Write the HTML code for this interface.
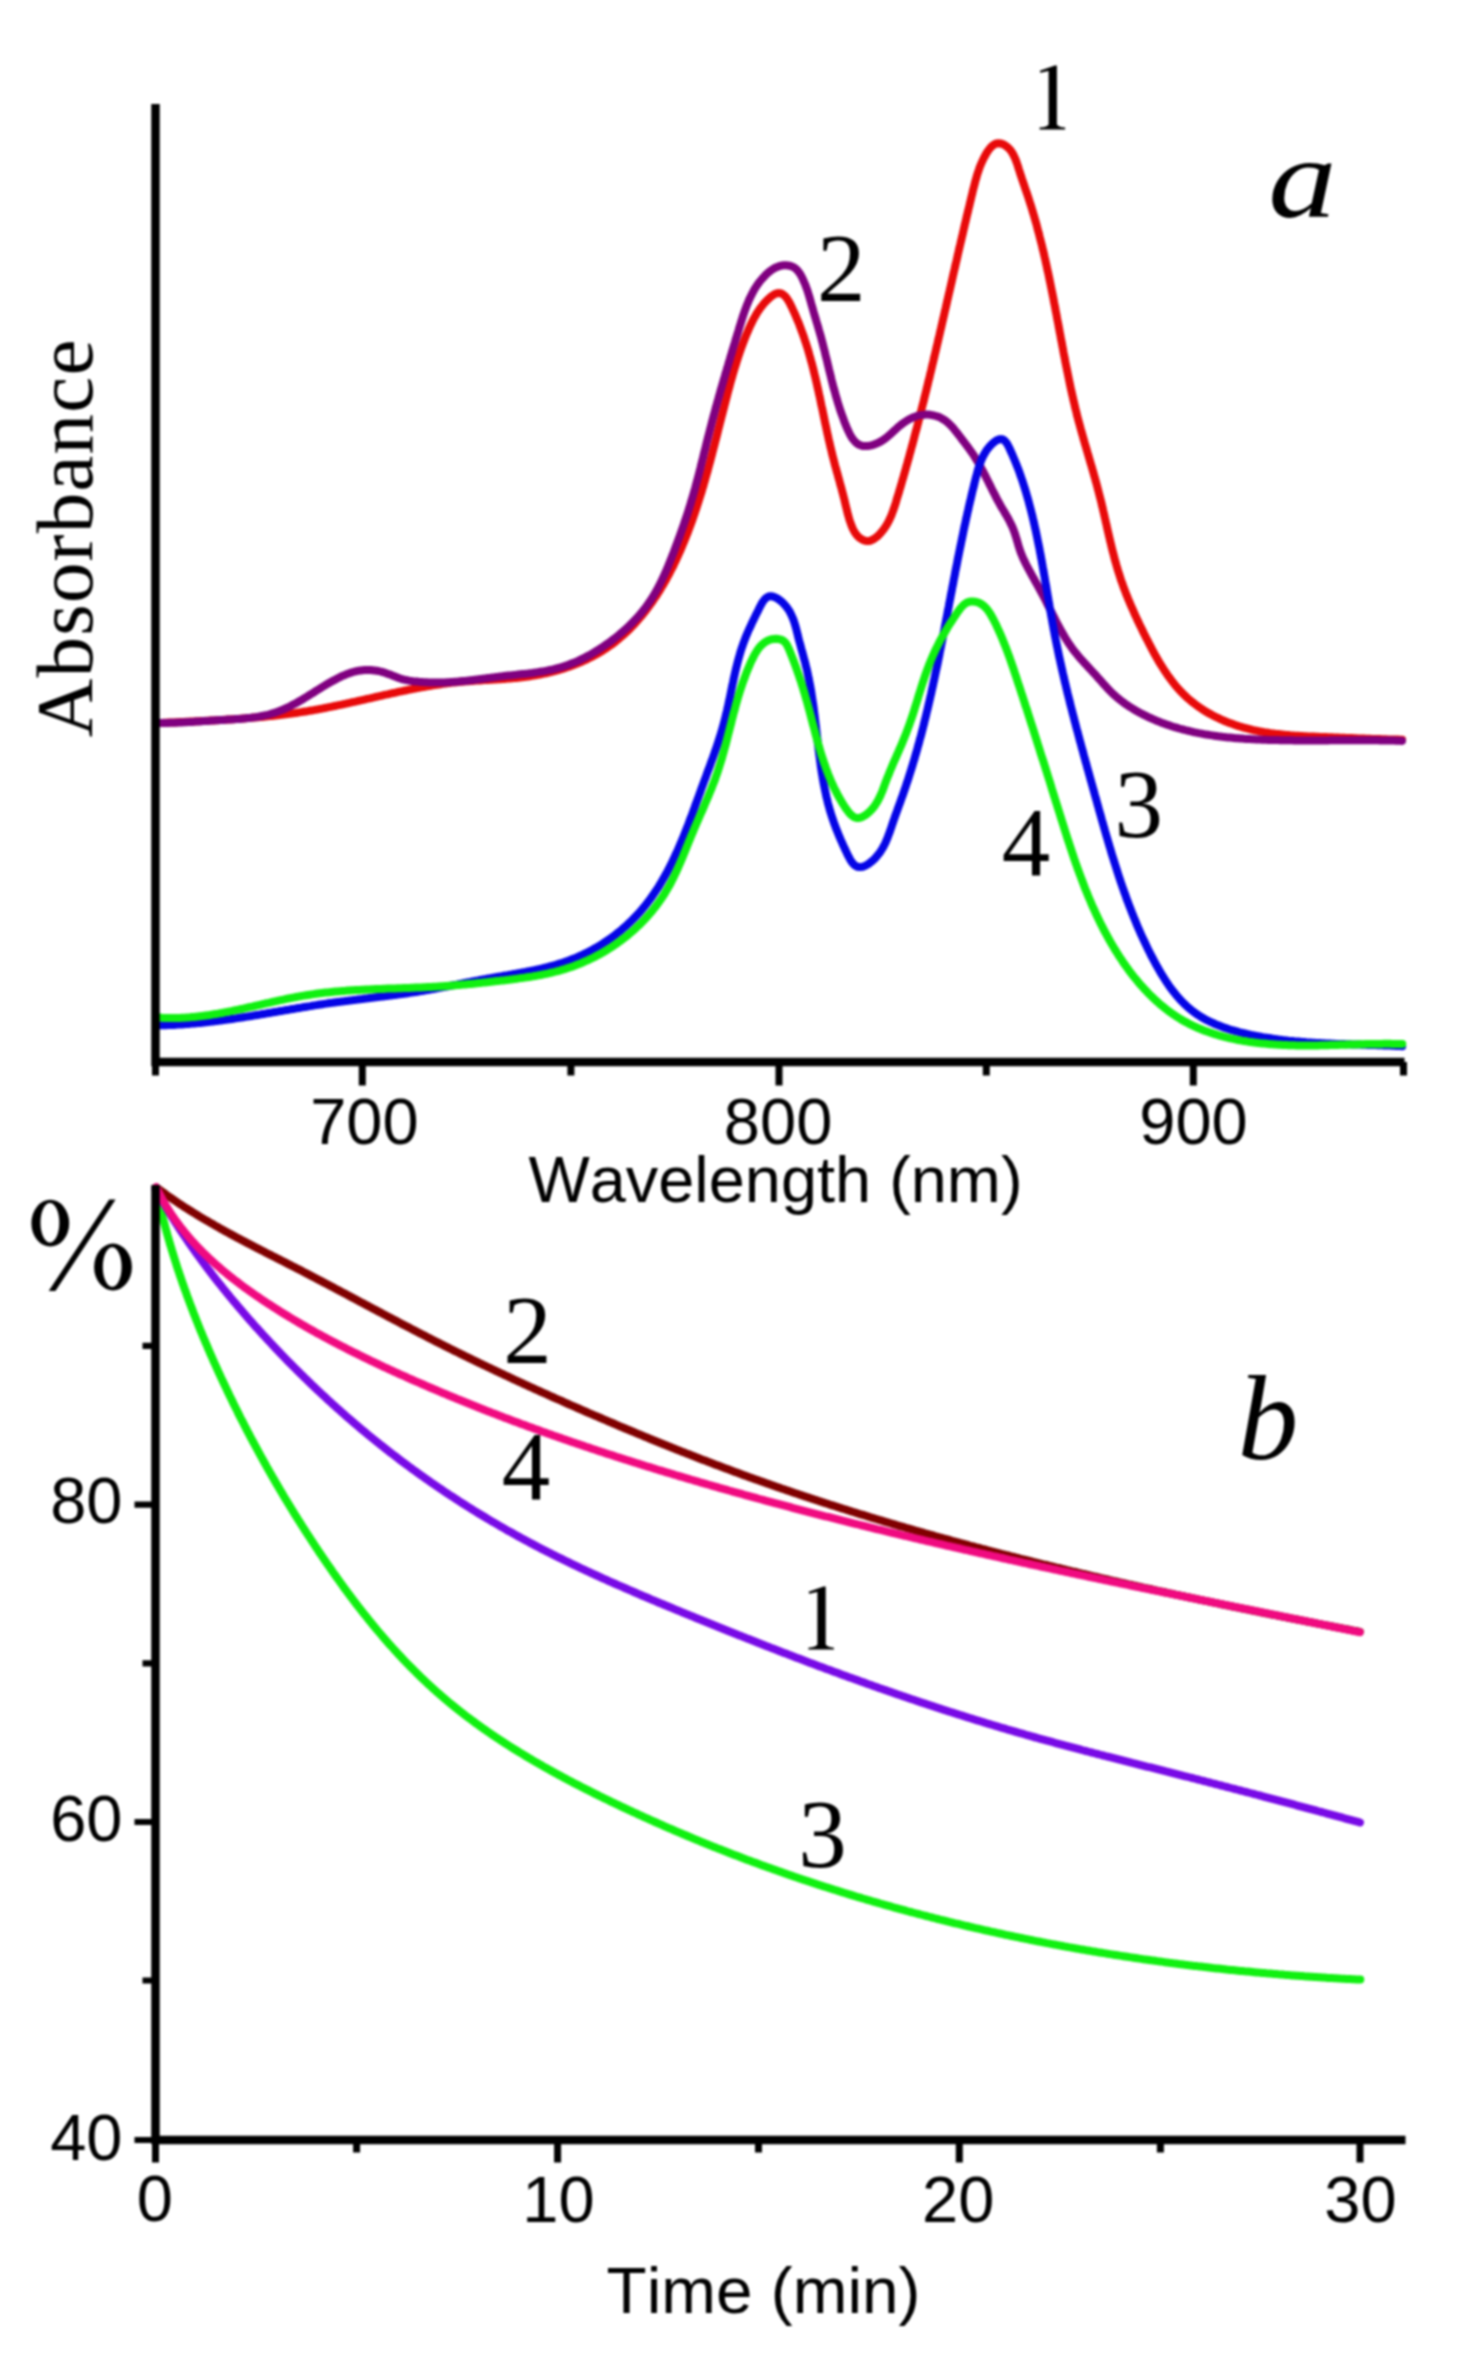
<!DOCTYPE html>
<html><head><meta charset="utf-8"><style>
html,body{margin:0;padding:0;background:#fff;width:1464px;height:2356px;overflow:hidden;}
svg{display:block;filter:blur(1px);}

</style></head><body>
<svg width="1464" height="2356" viewBox="0 0 1464 2356">
<rect width="1464" height="2356" fill="#fff"/>
<path d="M155.9,723.2 L157.9,723.1 L160.0,723.0 L162.0,722.9 L164.0,722.8 L166.0,722.7 L168.0,722.6 L170.0,722.5 L172.0,722.4 L174.0,722.4 L176.0,722.3 L178.0,722.2 L180.0,722.1 L182.0,722.0 L184.0,721.9 L186.0,721.8 L188.0,721.7 L190.0,721.6 L192.0,721.5 L194.0,721.4 L196.0,721.3 L198.0,721.2 L200.0,721.1 L202.0,721.0 L204.0,720.9 L206.0,720.8 L208.0,720.7 L210.0,720.6 L212.0,720.5 L214.0,720.4 L216.0,720.3 L217.9,720.2 L219.9,720.0 L221.9,719.9 L223.9,719.8 L225.9,719.7 L227.9,719.5 L229.9,719.4 L231.9,719.3 L233.9,719.2 L235.9,719.0 L237.9,718.9 L239.9,718.7 L241.9,718.6 L243.9,718.4 L245.8,718.3 L247.8,718.1 L249.8,718.0 L251.8,717.8 L253.8,717.6 L255.8,717.5 L257.8,717.3 L259.8,717.1 L261.7,716.9 L263.7,716.7 L265.7,716.5 L267.7,716.3 L269.7,716.1 L271.7,715.9 L273.7,715.7 L275.6,715.5 L277.6,715.3 L279.6,715.0 L281.6,714.8 L283.6,714.5 L285.5,714.3 L287.5,714.0 L289.5,713.8 L291.5,713.5 L293.4,713.2 L295.4,713.0 L297.4,712.7 L299.4,712.4 L301.3,712.1 L303.3,711.8 L305.3,711.5 L307.3,711.2 L309.2,710.8 L311.2,710.5 L313.2,710.2 L315.1,709.8 L317.1,709.5 L319.1,709.1 L321.0,708.8 L323.0,708.4 L325.0,708.0 L326.9,707.6 L328.9,707.2 L330.9,706.8 L332.8,706.4 L334.8,706.0 L336.7,705.6 L338.7,705.2 L340.7,704.8 L342.6,704.4 L344.6,704.0 L346.5,703.5 L348.5,703.1 L350.5,702.7 L352.4,702.2 L354.4,701.8 L356.3,701.4 L358.3,700.9 L360.3,700.5 L362.2,700.0 L364.2,699.6 L366.1,699.1 L368.1,698.7 L370.0,698.3 L372.0,697.8 L374.0,697.4 L375.9,696.9 L377.9,696.5 L379.8,696.0 L381.8,695.6 L383.7,695.1 L385.7,694.7 L387.7,694.3 L389.6,693.8 L391.6,693.4 L393.5,693.0 L395.5,692.6 L397.4,692.1 L399.4,691.7 L401.4,691.3 L403.3,690.9 L405.3,690.5 L407.2,690.1 L409.2,689.7 L411.2,689.3 L413.1,688.9 L415.1,688.5 L417.0,688.1 L419.0,687.8 L421.0,687.4 L422.9,687.0 L424.9,686.7 L426.9,686.4 L428.8,686.0 L430.8,685.7 L432.8,685.4 L434.7,685.1 L436.7,684.8 L438.7,684.5 L440.6,684.2 L442.6,683.9 L444.6,683.6 L446.5,683.4 L448.5,683.1 L450.5,682.9 L452.5,682.6 L454.4,682.4 L456.4,682.2 L458.4,682.0 L460.4,681.8 L462.4,681.7 L464.3,681.5 L466.3,681.3 L468.3,681.2 L470.3,681.0 L472.3,680.9 L474.2,680.8 L476.2,680.6 L478.2,680.5 L480.2,680.4 L482.2,680.3 L484.2,680.1 L486.2,680.0 L488.1,679.9 L490.1,679.8 L492.1,679.7 L494.1,679.6 L496.1,679.4 L498.1,679.3 L500.1,679.2 L502.1,679.0 L504.0,678.9 L506.0,678.7 L508.0,678.6 L510.0,678.4 L512.0,678.3 L514.0,678.1 L516.0,677.9 L518.0,677.7 L519.9,677.5 L521.9,677.2 L523.9,677.0 L525.9,676.7 L527.9,676.5 L529.9,676.2 L531.8,675.9 L533.8,675.6 L535.8,675.2 L537.8,674.9 L539.8,674.5 L541.7,674.1 L543.7,673.7 L545.7,673.3 L547.7,672.8 L549.6,672.4 L551.6,671.9 L553.5,671.4 L555.5,670.9 L557.4,670.3 L559.4,669.8 L561.3,669.2 L563.3,668.6 L565.2,668.0 L567.1,667.3 L569.0,666.7 L570.9,666.0 L572.8,665.3 L574.7,664.5 L576.6,663.8 L578.4,663.0 L580.3,662.3 L582.1,661.5 L584.0,660.6 L585.8,659.8 L587.6,658.9 L589.4,658.0 L591.2,657.1 L593.0,656.2 L594.7,655.3 L596.5,654.3 L598.2,653.3 L599.9,652.3 L601.6,651.3 L603.3,650.2 L604.9,649.2 L606.6,648.1 L608.2,646.9 L609.8,645.8 L611.4,644.7 L613.0,643.5 L614.6,642.3 L616.1,641.1 L617.6,639.8 L619.1,638.6 L620.6,637.3 L622.1,636.0 L623.6,634.7 L625.0,633.4 L626.5,632.1 L627.9,630.7 L629.3,629.3 L630.7,627.9 L632.1,626.5 L633.4,625.1 L634.8,623.7 L636.1,622.2 L637.4,620.7 L638.7,619.2 L640.0,617.7 L641.3,616.2 L642.5,614.7 L643.8,613.2 L645.0,611.6 L646.2,610.0 L647.4,608.4 L648.6,606.8 L649.8,605.2 L650.9,603.6 L652.1,602.0 L653.2,600.4 L654.3,598.7 L655.5,597.0 L656.6,595.4 L657.6,593.7 L658.7,592.0 L659.8,590.3 L660.8,588.6 L661.8,586.8 L662.9,585.1 L663.9,583.4 L664.9,581.6 L665.9,579.9 L666.8,578.1 L667.8,576.3 L668.8,574.5 L669.7,572.8 L670.6,571.0 L671.5,569.2 L672.5,567.4 L673.4,565.6 L674.2,563.7 L675.1,561.9 L676.0,560.1 L676.8,558.3 L677.7,556.4 L678.5,554.6 L679.3,552.7 L680.2,550.9 L681.0,549.0 L681.8,547.2 L682.5,545.3 L683.3,543.5 L684.1,541.6 L684.8,539.8 L685.6,537.9 L686.3,536.0 L687.1,534.2 L687.8,532.3 L688.5,530.4 L689.2,528.6 L689.9,526.7 L690.6,524.8 L691.3,522.9 L692.0,521.0 L692.6,519.2 L693.3,517.3 L693.9,515.4 L694.6,513.5 L695.2,511.6 L695.9,509.7 L696.5,507.8 L697.1,506.0 L697.7,504.1 L698.3,502.2 L698.9,500.3 L699.5,498.4 L700.1,496.5 L700.7,494.6 L701.3,492.7 L701.9,490.8 L702.4,488.9 L703.0,487.0 L703.6,485.0 L704.1,483.1 L704.7,481.2 L705.2,479.3 L705.7,477.4 L706.3,475.5 L706.8,473.6 L707.4,471.7 L707.9,469.7 L708.4,467.8 L708.9,465.9 L709.4,464.0 L710.0,462.1 L710.5,460.1 L711.0,458.2 L711.5,456.3 L712.0,454.4 L712.5,452.4 L713.0,450.5 L713.5,448.6 L714.0,446.6 L714.5,444.7 L715.0,442.8 L715.5,440.8 L716.0,438.9 L716.5,437.0 L717.0,435.0 L717.5,433.1 L717.9,431.2 L718.4,429.2 L718.9,427.3 L719.4,425.4 L719.9,423.4 L720.4,421.5 L720.9,419.5 L721.4,417.6 L721.9,415.6 L722.4,413.7 L722.9,411.8 L723.4,409.8 L723.9,407.9 L724.4,405.9 L724.9,404.0 L725.4,402.0 L725.9,400.1 L726.4,398.2 L726.9,396.2 L727.4,394.3 L727.9,392.3 L728.4,390.4 L729.0,388.4 L729.5,386.5 L730.0,384.5 L730.5,382.6 L731.1,380.6 L731.6,378.7 L732.2,376.8 L732.7,374.8 L733.3,372.9 L733.8,371.0 L734.4,369.0 L735.0,367.1 L735.6,365.2 L736.2,363.3 L736.8,361.4 L737.4,359.5 L738.0,357.6 L738.6,355.7 L739.3,353.8 L739.9,351.9 L740.6,350.0 L741.2,348.2 L741.9,346.3 L742.6,344.4 L743.3,342.6 L744.0,340.8 L744.7,338.9 L745.4,337.1 L746.1,335.3 L746.9,333.5 L747.7,331.7 L748.4,329.9 L749.2,328.1 L750.0,326.4 L750.8,324.6 L751.7,322.9 L752.5,321.1 L753.4,319.4 L754.3,317.7 L755.3,316.0 L756.3,314.2 L757.3,312.5 L758.5,310.8 L759.7,309.0 L761.0,307.2 L762.4,305.5 L763.9,303.6 L765.6,301.8 L767.3,300.0 L769.0,298.4 L770.8,296.8 L772.6,295.5 L774.3,294.4 L776.0,293.6 L777.6,293.2 L779.1,293.1 L780.5,293.3 L781.8,293.8 L783.1,294.5 L784.3,295.5 L785.5,296.7 L786.6,298.0 L787.6,299.5 L788.6,301.1 L789.6,302.8 L790.5,304.6 L791.4,306.5 L792.3,308.3 L793.1,310.2 L794.0,312.0 L794.8,313.9 L795.6,315.7 L796.4,317.6 L797.2,319.5 L798.0,321.4 L798.8,323.2 L799.5,325.1 L800.2,327.0 L800.9,328.9 L801.6,330.8 L802.3,332.7 L803.0,334.6 L803.7,336.5 L804.3,338.4 L804.9,340.3 L805.6,342.2 L806.2,344.1 L806.8,346.0 L807.4,347.9 L808.0,349.8 L808.5,351.7 L809.1,353.7 L809.6,355.6 L810.2,357.5 L810.7,359.4 L811.2,361.4 L811.8,363.3 L812.3,365.2 L812.8,367.2 L813.3,369.1 L813.7,371.0 L814.2,373.0 L814.7,374.9 L815.2,376.9 L815.6,378.8 L816.1,380.7 L816.5,382.7 L817.0,384.6 L817.4,386.6 L817.8,388.5 L818.3,390.5 L818.7,392.4 L819.1,394.4 L819.6,396.3 L820.0,398.3 L820.4,400.2 L820.8,402.2 L821.2,404.2 L821.6,406.1 L822.1,408.1 L822.5,410.0 L822.9,412.0 L823.3,413.9 L823.7,415.9 L824.1,417.9 L824.5,419.8 L824.9,421.8 L825.3,423.7 L825.8,425.7 L826.2,427.6 L826.6,429.6 L827.0,431.5 L827.4,433.5 L827.9,435.5 L828.3,437.4 L828.7,439.4 L829.2,441.3 L829.6,443.3 L830.1,445.2 L830.5,447.2 L831.0,449.1 L831.5,451.1 L831.9,453.0 L832.4,455.0 L832.9,456.9 L833.4,458.8 L833.9,460.8 L834.4,462.7 L834.9,464.7 L835.4,466.6 L836.0,468.5 L836.5,470.5 L837.0,472.4 L837.6,474.3 L838.1,476.3 L838.6,478.2 L839.2,480.1 L839.7,482.1 L840.2,484.0 L840.7,485.9 L841.3,487.8 L841.8,489.7 L842.3,491.7 L842.8,493.6 L843.3,495.5 L843.8,497.4 L844.3,499.3 L844.7,501.2 L845.2,503.2 L845.6,505.1 L846.1,507.0 L846.6,508.9 L847.0,510.8 L847.5,512.7 L848.0,514.7 L848.6,516.6 L849.1,518.6 L849.7,520.5 L850.4,522.5 L851.1,524.5 L851.9,526.5 L852.7,528.5 L853.7,530.4 L854.7,532.2 L855.9,533.9 L857.1,535.5 L858.5,536.9 L860.0,538.2 L861.6,539.2 L863.2,540.1 L864.9,540.6 L866.7,541.0 L868.4,541.0 L870.1,540.7 L871.9,540.0 L873.6,539.1 L875.2,538.0 L876.9,536.8 L878.4,535.3 L879.9,533.9 L881.2,532.4 L882.5,530.8 L883.8,529.2 L884.9,527.6 L886.0,525.9 L887.0,524.2 L888.0,522.5 L888.9,520.7 L889.8,518.9 L890.6,517.1 L891.4,515.3 L892.1,513.4 L892.8,511.6 L893.5,509.7 L894.1,507.8 L894.8,505.9 L895.4,504.0 L896.0,502.1 L896.5,500.2 L897.1,498.2 L897.7,496.3 L898.3,494.4 L898.9,492.5 L899.4,490.5 L900.0,488.6 L900.6,486.7 L901.1,484.8 L901.7,482.8 L902.2,480.9 L902.8,479.0 L903.4,477.1 L903.9,475.1 L904.5,473.2 L905.0,471.3 L905.6,469.4 L906.1,467.4 L906.6,465.5 L907.2,463.6 L907.7,461.7 L908.3,459.7 L908.8,457.8 L909.3,455.9 L909.8,453.9 L910.4,452.0 L910.9,450.1 L911.4,448.1 L911.9,446.2 L912.5,444.3 L913.0,442.3 L913.5,440.4 L914.0,438.5 L914.5,436.5 L915.0,434.6 L915.5,432.7 L916.1,430.7 L916.6,428.8 L917.1,426.9 L917.6,424.9 L918.1,423.0 L918.6,421.1 L919.1,419.1 L919.6,417.2 L920.1,415.3 L920.5,413.3 L921.0,411.4 L921.5,409.4 L922.0,407.5 L922.5,405.6 L923.0,403.6 L923.5,401.7 L924.0,399.8 L924.4,397.8 L924.9,395.9 L925.4,393.9 L925.9,392.0 L926.4,390.1 L926.8,388.1 L927.3,386.2 L927.8,384.2 L928.2,382.3 L928.7,380.3 L929.2,378.4 L929.7,376.5 L930.1,374.5 L930.6,372.6 L931.1,370.6 L931.5,368.7 L932.0,366.8 L932.4,364.8 L932.9,362.9 L933.4,360.9 L933.8,359.0 L934.3,357.0 L934.7,355.1 L935.2,353.1 L935.7,351.2 L936.1,349.3 L936.6,347.3 L937.0,345.4 L937.5,343.4 L937.9,341.5 L938.4,339.5 L938.8,337.6 L939.3,335.6 L939.7,333.7 L940.2,331.8 L940.6,329.8 L941.1,327.9 L941.5,325.9 L942.0,324.0 L942.4,322.0 L942.9,320.1 L943.3,318.1 L943.8,316.2 L944.2,314.2 L944.7,312.3 L945.1,310.3 L945.6,308.4 L946.0,306.5 L946.5,304.5 L946.9,302.6 L947.3,300.6 L947.8,298.7 L948.2,296.7 L948.7,294.8 L949.1,292.8 L949.6,290.9 L950.0,288.9 L950.5,287.0 L950.9,285.0 L951.4,283.1 L951.8,281.1 L952.2,279.2 L952.7,277.2 L953.1,275.3 L953.6,273.3 L954.0,271.4 L954.5,269.4 L954.9,267.5 L955.4,265.5 L955.8,263.6 L956.3,261.6 L956.7,259.7 L957.2,257.8 L957.6,255.8 L958.0,253.9 L958.5,251.9 L958.9,250.0 L959.4,248.0 L959.8,246.1 L960.3,244.1 L960.7,242.2 L961.2,240.2 L961.7,238.3 L962.1,236.3 L962.6,234.4 L963.0,232.4 L963.5,230.5 L963.9,228.5 L964.4,226.6 L964.8,224.6 L965.3,222.7 L965.8,220.7 L966.2,218.8 L966.7,216.8 L967.1,214.9 L967.6,213.0 L968.1,211.0 L968.5,209.1 L969.0,207.1 L969.5,205.2 L969.9,203.2 L970.4,201.3 L970.9,199.3 L971.3,197.4 L971.8,195.4 L972.3,193.5 L972.7,191.5 L973.2,189.6 L973.7,187.6 L974.2,185.7 L974.7,183.8 L975.2,181.8 L975.7,179.9 L976.3,178.0 L976.8,176.0 L977.4,174.1 L978.0,172.2 L978.7,170.3 L979.3,168.4 L980.0,166.5 L980.8,164.7 L981.6,162.8 L982.4,161.0 L983.3,159.1 L984.2,157.3 L985.2,155.5 L986.2,153.7 L987.3,151.9 L988.5,150.2 L989.7,148.6 L991.0,147.1 L992.3,145.8 L993.8,144.8 L995.3,143.9 L996.9,143.4 L998.5,143.2 L1000.3,143.4 L1002.0,143.9 L1003.8,144.6 L1005.4,145.6 L1007.0,146.7 L1008.4,148.0 L1009.7,149.3 L1010.9,150.8 L1012.0,152.4 L1013.0,154.1 L1013.9,155.9 L1014.8,157.7 L1015.6,159.6 L1016.3,161.5 L1017.0,163.5 L1017.7,165.5 L1018.3,167.5 L1018.9,169.5 L1019.6,171.5 L1020.2,173.5 L1020.8,175.4 L1021.5,177.4 L1022.1,179.3 L1022.8,181.2 L1023.4,183.1 L1024.1,185.0 L1024.7,186.9 L1025.3,188.8 L1026.0,190.6 L1026.6,192.5 L1027.3,194.4 L1027.9,196.3 L1028.5,198.1 L1029.1,200.0 L1029.7,201.9 L1030.3,203.8 L1030.9,205.6 L1031.5,207.5 L1032.1,209.4 L1032.6,211.3 L1033.2,213.2 L1033.8,215.1 L1034.3,217.0 L1034.9,218.9 L1035.4,220.8 L1036.0,222.7 L1036.5,224.6 L1037.0,226.5 L1037.5,228.5 L1038.0,230.4 L1038.5,232.3 L1039.1,234.2 L1039.5,236.1 L1040.0,238.1 L1040.5,240.0 L1041.0,241.9 L1041.5,243.9 L1042.0,245.8 L1042.4,247.7 L1042.9,249.7 L1043.4,251.6 L1043.8,253.5 L1044.3,255.5 L1044.7,257.4 L1045.2,259.4 L1045.6,261.3 L1046.0,263.3 L1046.5,265.2 L1046.9,267.2 L1047.3,269.1 L1047.7,271.1 L1048.2,273.0 L1048.6,275.0 L1049.0,276.9 L1049.4,278.9 L1049.8,280.9 L1050.2,282.8 L1050.6,284.8 L1051.0,286.8 L1051.4,288.7 L1051.8,290.7 L1052.2,292.6 L1052.6,294.6 L1053.0,296.6 L1053.4,298.5 L1053.7,300.5 L1054.1,302.5 L1054.5,304.5 L1054.9,306.4 L1055.3,308.4 L1055.6,310.4 L1056.0,312.3 L1056.4,314.3 L1056.8,316.3 L1057.1,318.3 L1057.5,320.2 L1057.9,322.2 L1058.3,324.2 L1058.6,326.1 L1059.0,328.1 L1059.4,330.1 L1059.7,332.1 L1060.1,334.0 L1060.5,336.0 L1060.8,338.0 L1061.2,339.9 L1061.6,341.9 L1062.0,343.9 L1062.3,345.8 L1062.7,347.8 L1063.1,349.8 L1063.4,351.7 L1063.8,353.7 L1064.2,355.7 L1064.6,357.6 L1065.0,359.6 L1065.3,361.6 L1065.7,363.5 L1066.1,365.5 L1066.5,367.5 L1066.9,369.4 L1067.3,371.4 L1067.7,373.3 L1068.1,375.3 L1068.5,377.3 L1068.9,379.2 L1069.3,381.2 L1069.7,383.1 L1070.1,385.1 L1070.5,387.0 L1070.9,389.0 L1071.4,390.9 L1071.8,392.9 L1072.2,394.8 L1072.7,396.8 L1073.1,398.7 L1073.6,400.7 L1074.0,402.6 L1074.5,404.5 L1074.9,406.5 L1075.4,408.4 L1075.9,410.4 L1076.4,412.3 L1076.8,414.2 L1077.3,416.2 L1077.8,418.1 L1078.3,420.0 L1078.8,421.9 L1079.4,423.9 L1079.9,425.8 L1080.4,427.7 L1080.9,429.6 L1081.5,431.5 L1082.0,433.5 L1082.6,435.4 L1083.1,437.3 L1083.6,439.2 L1084.2,441.1 L1084.7,443.1 L1085.3,445.0 L1085.9,446.9 L1086.4,448.8 L1087.0,450.7 L1087.5,452.6 L1088.1,454.5 L1088.7,456.5 L1089.2,458.4 L1089.8,460.3 L1090.3,462.2 L1090.9,464.1 L1091.5,466.1 L1092.0,468.0 L1092.6,469.9 L1093.1,471.8 L1093.7,473.7 L1094.2,475.7 L1094.8,477.6 L1095.3,479.5 L1095.8,481.4 L1096.4,483.4 L1096.9,485.3 L1097.4,487.2 L1097.9,489.2 L1098.4,491.1 L1098.9,493.1 L1099.4,495.0 L1099.9,496.9 L1100.4,498.9 L1100.9,500.8 L1101.4,502.8 L1101.8,504.7 L1102.3,506.7 L1102.8,508.6 L1103.2,510.6 L1103.7,512.6 L1104.1,514.5 L1104.6,516.5 L1105.0,518.4 L1105.5,520.4 L1105.9,522.4 L1106.4,524.3 L1106.8,526.3 L1107.2,528.2 L1107.7,530.2 L1108.1,532.2 L1108.6,534.1 L1109.0,536.1 L1109.5,538.0 L1109.9,540.0 L1110.4,541.9 L1110.9,543.9 L1111.3,545.8 L1111.8,547.8 L1112.3,549.7 L1112.8,551.7 L1113.3,553.6 L1113.8,555.5 L1114.3,557.5 L1114.8,559.4 L1115.3,561.3 L1115.9,563.2 L1116.4,565.1 L1117.0,567.1 L1117.5,569.0 L1118.1,570.9 L1118.7,572.8 L1119.3,574.6 L1119.9,576.5 L1120.5,578.4 L1121.1,580.3 L1121.8,582.2 L1122.5,584.0 L1123.1,585.9 L1123.8,587.7 L1124.5,589.6 L1125.2,591.4 L1125.9,593.3 L1126.6,595.1 L1127.4,597.0 L1128.1,598.8 L1128.9,600.6 L1129.6,602.4 L1130.4,604.3 L1131.2,606.1 L1132.0,607.9 L1132.8,609.7 L1133.6,611.5 L1134.4,613.4 L1135.2,615.2 L1136.1,617.0 L1136.9,618.8 L1137.7,620.6 L1138.6,622.4 L1139.4,624.2 L1140.3,626.0 L1141.2,627.8 L1142.1,629.6 L1142.9,631.4 L1143.8,633.2 L1144.7,635.0 L1145.6,636.8 L1146.5,638.6 L1147.5,640.4 L1148.4,642.2 L1149.3,644.0 L1150.2,645.8 L1151.2,647.6 L1152.1,649.4 L1153.1,651.2 L1154.0,653.0 L1155.0,654.8 L1156.0,656.5 L1157.0,658.3 L1158.0,660.0 L1159.0,661.8 L1160.1,663.5 L1161.1,665.2 L1162.2,666.9 L1163.3,668.6 L1164.4,670.3 L1165.5,672.0 L1166.6,673.6 L1167.7,675.3 L1168.9,676.9 L1170.1,678.5 L1171.2,680.1 L1172.5,681.7 L1173.7,683.3 L1174.9,684.8 L1176.2,686.3 L1177.5,687.8 L1178.8,689.3 L1180.1,690.7 L1181.5,692.2 L1182.9,693.6 L1184.3,695.0 L1185.7,696.3 L1187.1,697.7 L1188.6,699.0 L1190.1,700.2 L1191.6,701.5 L1193.2,702.7 L1194.7,703.9 L1196.3,705.1 L1197.9,706.3 L1199.5,707.4 L1201.2,708.5 L1202.8,709.6 L1204.5,710.7 L1206.2,711.7 L1207.9,712.7 L1209.6,713.7 L1211.4,714.6 L1213.1,715.6 L1214.9,716.5 L1216.7,717.4 L1218.5,718.2 L1220.3,719.1 L1222.1,719.9 L1224.0,720.7 L1225.8,721.5 L1227.7,722.2 L1229.5,722.9 L1231.4,723.6 L1233.3,724.3 L1235.2,725.0 L1237.1,725.6 L1239.0,726.2 L1240.9,726.8 L1242.9,727.4 L1244.8,727.9 L1246.7,728.4 L1248.7,728.9 L1250.6,729.4 L1252.5,729.9 L1254.5,730.3 L1256.4,730.7 L1258.4,731.1 L1260.4,731.5 L1262.3,731.8 L1264.3,732.2 L1266.3,732.5 L1268.2,732.8 L1270.2,733.1 L1272.2,733.4 L1274.2,733.6 L1276.2,733.9 L1278.1,734.1 L1280.1,734.3 L1282.1,734.5 L1284.1,734.7 L1286.1,734.9 L1288.1,735.1 L1290.1,735.3 L1292.1,735.4 L1294.1,735.6 L1296.1,735.7 L1298.1,735.8 L1300.1,736.0 L1302.1,736.1 L1304.1,736.2 L1306.1,736.3 L1308.1,736.4 L1310.1,736.5 L1312.1,736.6 L1314.1,736.6 L1316.1,736.7 L1318.1,736.8 L1320.1,736.9 L1322.1,737.0 L1324.1,737.0 L1326.1,737.1 L1328.1,737.2 L1330.1,737.3 L1332.1,737.3 L1334.1,737.4 L1336.1,737.5 L1338.1,737.6 L1340.1,737.7 L1342.1,737.7 L1344.1,737.8 L1346.1,737.9 L1348.1,738.0 L1350.1,738.1 L1352.1,738.1 L1354.1,738.2 L1356.0,738.3 L1358.0,738.4 L1360.0,738.4 L1362.0,738.5 L1364.0,738.6 L1366.0,738.7 L1368.0,738.7 L1370.0,738.8 L1372.0,738.9 L1374.0,738.9 L1376.0,739.0 L1378.0,739.1 L1380.0,739.1 L1382.0,739.2 L1384.0,739.3 L1386.0,739.3 L1388.0,739.4 L1390.0,739.4 L1392.0,739.5 L1394.0,739.5 L1396.0,739.6 L1398.0,739.6 L1400.0,739.7 L1402.1,739.7" stroke="#e80a0a" stroke-width="8" fill="none" stroke-linejoin="round" stroke-linecap="round"/>
<path d="M155.9,722.9 L158.0,722.9 L160.0,722.9 L162.0,722.9 L164.0,722.9 L166.1,722.9 L168.1,722.9 L170.1,722.8 L172.1,722.8 L174.1,722.7 L176.1,722.7 L178.1,722.6 L180.1,722.5 L182.0,722.4 L184.0,722.3 L186.0,722.2 L188.0,722.1 L190.0,722.0 L192.0,721.9 L193.9,721.8 L195.9,721.6 L197.9,721.5 L199.9,721.4 L201.9,721.2 L203.9,721.1 L205.8,721.0 L207.8,720.9 L209.8,720.7 L211.8,720.6 L213.8,720.5 L215.8,720.3 L217.8,720.2 L219.8,720.1 L221.8,720.0 L223.8,719.9 L225.8,719.8 L227.8,719.6 L229.9,719.5 L231.9,719.4 L233.9,719.3 L235.9,719.1 L237.9,719.0 L239.9,718.9 L241.9,718.7 L244.0,718.5 L246.0,718.3 L248.0,718.1 L250.0,717.9 L251.9,717.6 L253.9,717.4 L255.9,717.1 L257.9,716.8 L259.8,716.4 L261.8,716.0 L263.7,715.6 L265.6,715.2 L267.6,714.8 L269.5,714.3 L271.4,713.7 L273.3,713.2 L275.1,712.6 L277.0,711.9 L278.8,711.2 L280.7,710.5 L282.5,709.8 L284.3,709.0 L286.1,708.2 L287.9,707.3 L289.6,706.5 L291.4,705.6 L293.2,704.6 L294.9,703.7 L296.7,702.7 L298.4,701.7 L300.1,700.7 L301.9,699.7 L303.6,698.7 L305.3,697.6 L307.0,696.6 L308.7,695.5 L310.5,694.4 L312.2,693.4 L313.9,692.3 L315.6,691.2 L317.3,690.1 L319.0,689.1 L320.8,688.0 L322.5,686.9 L324.2,685.9 L325.9,684.8 L327.7,683.8 L329.4,682.8 L331.2,681.8 L332.9,680.8 L334.7,679.9 L336.5,678.9 L338.3,678.0 L340.1,677.1 L341.9,676.2 L343.7,675.4 L345.5,674.7 L347.3,673.9 L349.2,673.2 L351.1,672.6 L353.0,672.0 L354.9,671.5 L356.8,671.1 L358.7,670.7 L360.7,670.4 L362.6,670.2 L364.6,670.1 L366.6,670.0 L368.6,670.0 L370.6,670.0 L372.6,670.2 L374.5,670.4 L376.5,670.7 L378.5,671.0 L380.4,671.5 L382.4,672.0 L384.3,672.5 L386.2,673.2 L388.1,673.9 L390.0,674.6 L391.9,675.3 L393.7,676.1 L395.6,676.8 L397.5,677.5 L399.4,678.2 L401.2,678.8 L403.2,679.4 L405.1,679.8 L407.0,680.2 L409.0,680.6 L410.9,680.9 L412.9,681.2 L414.9,681.4 L416.8,681.6 L418.8,681.8 L420.8,681.9 L422.8,682.1 L424.8,682.2 L426.8,682.3 L428.8,682.4 L430.8,682.5 L432.9,682.5 L434.9,682.5 L436.9,682.6 L438.9,682.5 L440.9,682.5 L442.9,682.5 L444.9,682.4 L446.9,682.3 L448.9,682.2 L450.9,682.1 L452.9,682.0 L454.9,681.8 L456.9,681.7 L458.8,681.5 L460.8,681.3 L462.8,681.1 L464.8,680.9 L466.8,680.7 L468.8,680.5 L470.7,680.3 L472.7,680.1 L474.7,679.8 L476.7,679.6 L478.7,679.3 L480.6,679.1 L482.6,678.8 L484.6,678.6 L486.6,678.3 L488.5,678.0 L490.5,677.8 L492.5,677.5 L494.5,677.3 L496.5,677.0 L498.4,676.8 L500.4,676.5 L502.4,676.3 L504.4,676.0 L506.4,675.8 L508.4,675.6 L510.4,675.4 L512.4,675.2 L514.4,675.0 L516.4,674.8 L518.4,674.5 L520.4,674.3 L522.4,674.1 L524.4,673.9 L526.3,673.7 L528.3,673.5 L530.3,673.2 L532.3,673.0 L534.3,672.7 L536.3,672.4 L538.2,672.1 L540.2,671.8 L542.2,671.5 L544.1,671.2 L546.1,670.8 L548.0,670.4 L550.0,670.0 L551.9,669.6 L553.9,669.2 L555.8,668.7 L557.7,668.2 L559.6,667.7 L561.5,667.1 L563.4,666.5 L565.3,665.9 L567.1,665.2 L569.0,664.6 L570.9,663.8 L572.7,663.1 L574.5,662.4 L576.4,661.6 L578.2,660.8 L580.0,659.9 L581.8,659.0 L583.6,658.2 L585.4,657.3 L587.1,656.3 L588.9,655.4 L590.7,654.4 L592.4,653.4 L594.1,652.4 L595.8,651.3 L597.6,650.3 L599.3,649.2 L600.9,648.1 L602.6,647.0 L604.3,645.9 L605.9,644.7 L607.6,643.6 L609.2,642.4 L610.9,641.2 L612.5,640.0 L614.1,638.8 L615.7,637.5 L617.2,636.3 L618.8,635.0 L620.3,633.7 L621.9,632.4 L623.4,631.1 L624.9,629.8 L626.4,628.4 L627.8,627.1 L629.3,625.7 L630.7,624.3 L632.1,622.9 L633.5,621.4 L634.9,620.0 L636.3,618.5 L637.6,617.1 L639.0,615.6 L640.3,614.1 L641.5,612.5 L642.8,611.0 L644.0,609.4 L645.2,607.9 L646.4,606.3 L647.6,604.7 L648.7,603.1 L649.9,601.4 L651.0,599.8 L652.0,598.1 L653.1,596.4 L654.1,594.7 L655.1,593.0 L656.1,591.3 L657.1,589.5 L658.0,587.8 L658.9,586.0 L659.8,584.3 L660.7,582.5 L661.6,580.7 L662.5,578.9 L663.3,577.1 L664.2,575.3 L665.0,573.4 L665.8,571.6 L666.6,569.8 L667.4,567.9 L668.2,566.1 L668.9,564.2 L669.7,562.4 L670.4,560.5 L671.2,558.6 L671.9,556.8 L672.6,554.9 L673.4,553.0 L674.1,551.1 L674.8,549.3 L675.5,547.4 L676.2,545.5 L676.9,543.6 L677.6,541.8 L678.3,539.9 L679.0,538.0 L679.7,536.1 L680.4,534.2 L681.0,532.4 L681.7,530.5 L682.4,528.6 L683.0,526.7 L683.7,524.8 L684.3,522.9 L685.0,521.0 L685.6,519.2 L686.2,517.3 L686.9,515.4 L687.5,513.5 L688.1,511.6 L688.7,509.7 L689.3,507.8 L689.9,505.9 L690.5,504.0 L691.1,502.0 L691.6,500.1 L692.2,498.2 L692.8,496.3 L693.3,494.4 L693.9,492.5 L694.4,490.6 L695.0,488.6 L695.5,486.7 L696.0,484.8 L696.5,482.9 L697.1,480.9 L697.6,479.0 L698.1,477.1 L698.6,475.1 L699.1,473.2 L699.6,471.2 L700.1,469.3 L700.6,467.4 L701.0,465.4 L701.5,463.5 L702.0,461.6 L702.5,459.6 L703.0,457.7 L703.5,455.7 L703.9,453.8 L704.4,451.8 L704.9,449.9 L705.4,448.0 L705.9,446.0 L706.3,444.1 L706.8,442.1 L707.3,440.2 L707.8,438.3 L708.3,436.3 L708.8,434.4 L709.3,432.4 L709.8,430.5 L710.3,428.6 L710.8,426.6 L711.3,424.7 L711.8,422.8 L712.3,420.8 L712.8,418.9 L713.3,417.0 L713.9,415.0 L714.4,413.1 L714.9,411.2 L715.4,409.3 L715.9,407.3 L716.5,405.4 L717.0,403.5 L717.5,401.6 L718.1,399.6 L718.6,397.7 L719.2,395.8 L719.7,393.9 L720.2,391.9 L720.8,390.0 L721.3,388.1 L721.9,386.2 L722.4,384.3 L723.0,382.3 L723.6,380.4 L724.1,378.5 L724.7,376.6 L725.2,374.7 L725.8,372.8 L726.4,370.8 L726.9,368.9 L727.5,367.0 L728.1,365.1 L728.6,363.2 L729.2,361.3 L729.8,359.3 L730.3,357.4 L730.9,355.5 L731.5,353.6 L732.1,351.7 L732.6,349.8 L733.2,347.8 L733.8,345.9 L734.4,344.0 L735.0,342.1 L735.5,340.2 L736.1,338.3 L736.7,336.4 L737.3,334.4 L737.9,332.5 L738.5,330.6 L739.0,328.7 L739.6,326.8 L740.2,324.9 L740.8,323.0 L741.4,321.0 L742.0,319.1 L742.6,317.2 L743.2,315.3 L743.9,313.4 L744.5,311.6 L745.2,309.7 L745.9,307.8 L746.6,305.9 L747.3,304.1 L748.1,302.3 L748.8,300.4 L749.7,298.6 L750.5,296.8 L751.4,295.1 L752.3,293.3 L753.2,291.6 L754.2,289.8 L755.2,288.1 L756.3,286.4 L757.4,284.8 L758.6,283.1 L759.8,281.5 L761.1,280.0 L762.4,278.4 L763.8,276.9 L765.2,275.4 L766.7,273.9 L768.2,272.6 L769.8,271.3 L771.4,270.1 L773.1,269.0 L774.8,268.0 L776.6,267.2 L778.4,266.5 L780.2,265.9 L782.1,265.5 L784.0,265.3 L786.0,265.3 L787.9,265.5 L789.8,265.8 L791.6,266.4 L793.4,267.2 L795.0,268.2 L796.4,269.3 L797.7,270.7 L798.9,272.2 L800.0,273.8 L801.0,275.5 L801.9,277.2 L802.8,279.0 L803.6,280.8 L804.4,282.7 L805.2,284.5 L805.9,286.4 L806.6,288.3 L807.3,290.2 L807.9,292.1 L808.5,294.1 L809.1,296.0 L809.7,298.0 L810.2,299.9 L810.8,301.9 L811.3,303.8 L811.9,305.8 L812.4,307.7 L813.0,309.7 L813.5,311.6 L814.1,313.5 L814.6,315.4 L815.2,317.3 L815.8,319.2 L816.3,321.1 L816.9,323.0 L817.5,324.9 L818.0,326.8 L818.6,328.7 L819.1,330.6 L819.7,332.5 L820.2,334.4 L820.8,336.3 L821.3,338.2 L821.8,340.2 L822.3,342.1 L822.8,344.0 L823.3,346.0 L823.8,347.9 L824.3,349.9 L824.8,351.8 L825.2,353.8 L825.7,355.7 L826.2,357.7 L826.7,359.6 L827.2,361.6 L827.6,363.5 L828.1,365.5 L828.6,367.4 L829.0,369.4 L829.5,371.3 L830.0,373.3 L830.5,375.2 L831.0,377.2 L831.4,379.1 L831.9,381.1 L832.4,383.0 L832.9,385.0 L833.4,386.9 L833.9,388.8 L834.5,390.7 L835.0,392.6 L835.5,394.5 L836.0,396.4 L836.6,398.3 L837.2,400.2 L837.7,402.1 L838.3,404.0 L838.9,405.9 L839.5,407.8 L840.1,409.7 L840.7,411.5 L841.4,413.4 L842.1,415.3 L842.8,417.2 L843.5,419.1 L844.2,421.1 L844.9,423.0 L845.7,424.9 L846.5,426.9 L847.3,428.8 L848.2,430.7 L849.1,432.6 L850.0,434.5 L851.0,436.2 L852.0,437.9 L853.2,439.5 L854.4,440.9 L855.6,442.2 L857.0,443.4 L858.4,444.3 L860.0,445.1 L861.7,445.7 L863.4,446.0 L865.3,446.1 L867.2,446.1 L869.2,445.8 L871.2,445.4 L873.2,444.8 L875.2,444.1 L877.1,443.3 L879.0,442.4 L880.9,441.4 L882.6,440.3 L884.3,439.2 L885.9,438.0 L887.4,436.8 L888.9,435.5 L890.4,434.2 L891.8,432.9 L893.3,431.6 L894.7,430.2 L896.2,428.9 L897.6,427.6 L899.1,426.3 L900.7,425.0 L902.3,423.8 L903.9,422.6 L905.6,421.5 L907.3,420.4 L909.0,419.4 L910.8,418.5 L912.6,417.6 L914.4,416.9 L916.3,416.2 L918.2,415.7 L920.1,415.2 L922.1,414.9 L924.0,414.7 L926.0,414.6 L928.0,414.6 L930.0,414.8 L932.0,415.1 L934.0,415.5 L935.9,416.0 L937.8,416.6 L939.7,417.3 L941.4,418.2 L943.1,419.2 L944.8,420.2 L946.3,421.4 L947.8,422.6 L949.3,424.0 L950.7,425.4 L952.0,426.8 L953.4,428.3 L954.7,429.9 L955.9,431.4 L957.2,433.0 L958.4,434.6 L959.6,436.2 L960.9,437.9 L962.1,439.5 L963.3,441.1 L964.6,442.7 L965.8,444.3 L967.0,445.9 L968.2,447.5 L969.3,449.1 L970.5,450.7 L971.6,452.3 L972.8,454.0 L973.9,455.6 L974.9,457.3 L976.0,459.0 L977.0,460.7 L978.1,462.4 L979.0,464.1 L980.0,465.8 L981.0,467.6 L981.9,469.3 L982.9,471.1 L983.8,472.9 L984.7,474.6 L985.6,476.4 L986.5,478.2 L987.4,480.0 L988.3,481.8 L989.2,483.6 L990.1,485.4 L991.0,487.2 L991.8,489.0 L992.7,490.7 L993.6,492.5 L994.6,494.3 L995.5,496.1 L996.4,497.9 L997.3,499.7 L998.3,501.4 L999.3,503.2 L1000.2,504.9 L1001.2,506.7 L1002.2,508.4 L1003.3,510.1 L1004.3,511.9 L1005.3,513.6 L1006.3,515.3 L1007.3,517.0 L1008.3,518.8 L1009.2,520.5 L1010.1,522.3 L1011.0,524.1 L1011.9,525.9 L1012.7,527.7 L1013.4,529.5 L1014.1,531.4 L1014.8,533.3 L1015.4,535.2 L1016.0,537.1 L1016.6,539.0 L1017.1,540.9 L1017.7,542.8 L1018.2,544.7 L1018.8,546.6 L1019.4,548.5 L1020.0,550.4 L1020.7,552.3 L1021.4,554.2 L1022.2,556.0 L1022.9,557.8 L1023.8,559.6 L1024.6,561.4 L1025.5,563.2 L1026.4,565.0 L1027.3,566.7 L1028.2,568.5 L1029.2,570.2 L1030.1,572.0 L1031.1,573.7 L1032.0,575.5 L1033.0,577.2 L1034.0,578.9 L1034.9,580.7 L1035.9,582.4 L1036.9,584.2 L1037.9,585.9 L1038.8,587.7 L1039.8,589.4 L1040.7,591.2 L1041.7,592.9 L1042.6,594.7 L1043.5,596.4 L1044.5,598.2 L1045.4,600.0 L1046.3,601.8 L1047.2,603.6 L1048.1,605.4 L1049.0,607.2 L1049.9,609.0 L1050.8,610.8 L1051.7,612.6 L1052.6,614.4 L1053.5,616.1 L1054.4,617.9 L1055.3,619.7 L1056.2,621.5 L1057.1,623.3 L1058.0,625.1 L1059.0,626.8 L1059.9,628.6 L1060.9,630.3 L1061.9,632.1 L1062.9,633.8 L1063.9,635.5 L1064.9,637.3 L1065.9,639.0 L1067.0,640.6 L1068.1,642.3 L1069.2,644.0 L1070.3,645.6 L1071.4,647.2 L1072.6,648.9 L1073.8,650.5 L1075.0,652.0 L1076.3,653.6 L1077.5,655.1 L1078.8,656.7 L1080.1,658.2 L1081.5,659.7 L1082.8,661.2 L1084.1,662.7 L1085.5,664.1 L1086.9,665.6 L1088.2,667.1 L1089.6,668.6 L1091.0,670.0 L1092.3,671.5 L1093.7,673.0 L1095.1,674.4 L1096.4,675.9 L1097.7,677.4 L1099.1,678.9 L1100.4,680.4 L1101.7,681.8 L1103.0,683.3 L1104.3,684.8 L1105.7,686.3 L1107.0,687.7 L1108.4,689.2 L1109.7,690.6 L1111.1,692.0 L1112.5,693.4 L1114.0,694.7 L1115.4,696.0 L1116.9,697.3 L1118.5,698.6 L1120.0,699.9 L1121.6,701.1 L1123.2,702.3 L1124.8,703.5 L1126.4,704.6 L1128.1,705.7 L1129.8,706.9 L1131.5,707.9 L1133.2,709.0 L1134.9,710.0 L1136.6,711.0 L1138.4,712.0 L1140.2,713.0 L1142.0,713.9 L1143.8,714.8 L1145.6,715.7 L1147.4,716.6 L1149.2,717.5 L1151.1,718.3 L1152.9,719.1 L1154.7,719.9 L1156.6,720.7 L1158.5,721.4 L1160.3,722.2 L1162.2,722.9 L1164.1,723.6 L1165.9,724.2 L1167.8,724.9 L1169.7,725.5 L1171.6,726.2 L1173.5,726.8 L1175.4,727.3 L1177.3,727.9 L1179.2,728.5 L1181.1,729.0 L1183.1,729.5 L1185.0,730.0 L1186.9,730.5 L1188.8,730.9 L1190.8,731.4 L1192.7,731.8 L1194.7,732.3 L1196.6,732.7 L1198.6,733.1 L1200.5,733.4 L1202.5,733.8 L1204.4,734.2 L1206.4,734.5 L1208.3,734.8 L1210.3,735.1 L1212.3,735.4 L1214.2,735.7 L1216.2,736.0 L1218.2,736.3 L1220.2,736.5 L1222.2,736.8 L1224.1,737.0 L1226.1,737.2 L1228.1,737.4 L1230.1,737.6 L1232.1,737.8 L1234.1,738.0 L1236.1,738.2 L1238.1,738.3 L1240.0,738.5 L1242.0,738.6 L1244.0,738.8 L1246.0,738.9 L1248.0,739.0 L1250.0,739.1 L1252.0,739.2 L1254.0,739.3 L1256.0,739.4 L1258.0,739.5 L1260.0,739.6 L1262.0,739.7 L1264.1,739.8 L1266.1,739.8 L1268.1,739.9 L1270.1,740.0 L1272.1,740.0 L1274.1,740.1 L1276.1,740.1 L1278.1,740.1 L1280.1,740.2 L1282.1,740.2 L1284.1,740.2 L1286.1,740.3 L1288.1,740.3 L1290.1,740.3 L1292.1,740.3 L1294.1,740.4 L1296.1,740.4 L1298.1,740.4 L1300.1,740.4 L1302.1,740.4 L1304.1,740.4 L1306.1,740.4 L1308.1,740.4 L1310.1,740.4 L1312.1,740.4 L1314.1,740.4 L1316.1,740.4 L1318.1,740.4 L1320.1,740.4 L1322.1,740.4 L1324.0,740.4 L1326.0,740.4 L1328.0,740.4 L1330.0,740.3 L1332.0,740.3 L1334.0,740.3 L1336.0,740.3 L1338.0,740.3 L1340.0,740.3 L1342.0,740.3 L1344.0,740.3 L1346.0,740.3 L1348.0,740.3 L1350.0,740.3 L1352.0,740.3 L1354.0,740.3 L1356.0,740.2 L1358.0,740.2 L1360.0,740.2 L1362.0,740.3 L1364.0,740.3 L1366.0,740.3 L1368.0,740.3 L1370.0,740.3 L1372.0,740.3 L1374.0,740.3 L1376.0,740.3 L1378.0,740.3 L1380.0,740.4 L1382.0,740.4 L1384.0,740.4 L1386.0,740.5 L1388.0,740.5 L1390.0,740.5 L1392.0,740.6 L1394.0,740.6 L1396.0,740.7 L1398.0,740.7 L1400.0,740.8 L1402.0,740.9" stroke="#800080" stroke-width="8" fill="none" stroke-linejoin="round" stroke-linecap="round"/>
<path d="M155.9,1025.3 L157.9,1025.3 L159.9,1025.3 L161.9,1025.3 L163.9,1025.2 L165.9,1025.2 L168.0,1025.1 L170.0,1025.0 L172.0,1024.9 L174.0,1024.9 L176.0,1024.8 L178.0,1024.6 L180.0,1024.5 L182.0,1024.4 L184.0,1024.3 L186.0,1024.1 L188.0,1024.0 L190.0,1023.8 L192.0,1023.6 L194.0,1023.5 L196.0,1023.3 L198.0,1023.1 L199.9,1022.9 L201.9,1022.7 L203.9,1022.5 L205.9,1022.3 L207.9,1022.1 L209.9,1021.8 L211.9,1021.6 L213.8,1021.4 L215.8,1021.1 L217.8,1020.9 L219.8,1020.6 L221.8,1020.4 L223.7,1020.1 L225.7,1019.8 L227.7,1019.5 L229.7,1019.3 L231.7,1019.0 L233.6,1018.7 L235.6,1018.4 L237.6,1018.1 L239.6,1017.8 L241.5,1017.5 L243.5,1017.2 L245.5,1016.9 L247.5,1016.6 L249.4,1016.3 L251.4,1016.0 L253.4,1015.6 L255.3,1015.3 L257.3,1015.0 L259.3,1014.7 L261.3,1014.3 L263.2,1014.0 L265.2,1013.7 L267.2,1013.3 L269.1,1013.0 L271.1,1012.7 L273.1,1012.3 L275.0,1012.0 L277.0,1011.7 L279.0,1011.3 L281.0,1011.0 L282.9,1010.7 L284.9,1010.3 L286.9,1010.0 L288.8,1009.7 L290.8,1009.3 L292.8,1009.0 L294.8,1008.7 L296.7,1008.3 L298.7,1008.0 L300.7,1007.7 L302.6,1007.3 L304.6,1007.0 L306.6,1006.7 L308.6,1006.4 L310.5,1006.1 L312.5,1005.7 L314.5,1005.4 L316.5,1005.1 L318.4,1004.8 L320.4,1004.5 L322.4,1004.2 L324.4,1003.9 L326.4,1003.6 L328.3,1003.3 L330.3,1003.0 L332.3,1002.8 L334.3,1002.5 L336.3,1002.2 L338.2,1001.9 L340.2,1001.7 L342.2,1001.4 L344.2,1001.2 L346.2,1000.9 L348.2,1000.7 L350.2,1000.4 L352.1,1000.2 L354.1,999.9 L356.1,999.7 L358.1,999.4 L360.1,999.2 L362.1,999.0 L364.1,998.7 L366.1,998.5 L368.1,998.3 L370.0,998.0 L372.0,997.8 L374.0,997.5 L376.0,997.3 L378.0,997.1 L380.0,996.8 L382.0,996.6 L384.0,996.4 L385.9,996.1 L387.9,995.9 L389.9,995.6 L391.9,995.4 L393.9,995.1 L395.9,994.9 L397.8,994.6 L399.8,994.3 L401.8,994.1 L403.8,993.8 L405.7,993.5 L407.7,993.2 L409.7,992.9 L411.7,992.6 L413.6,992.3 L415.6,992.0 L417.6,991.7 L419.5,991.4 L421.5,991.1 L423.4,990.8 L425.4,990.4 L427.4,990.1 L429.3,989.7 L431.3,989.4 L433.2,989.0 L435.2,988.7 L437.1,988.3 L439.1,987.9 L441.0,987.6 L443.0,987.2 L444.9,986.8 L446.9,986.5 L448.9,986.1 L450.8,985.7 L452.8,985.3 L454.7,984.9 L456.7,984.6 L458.6,984.2 L460.6,983.8 L462.5,983.4 L464.5,983.0 L466.4,982.6 L468.4,982.2 L470.3,981.9 L472.3,981.5 L474.3,981.1 L476.2,980.7 L478.2,980.4 L480.1,980.0 L482.1,979.6 L484.1,979.2 L486.0,978.9 L488.0,978.5 L490.0,978.2 L492.0,977.8 L493.9,977.5 L495.9,977.1 L497.9,976.8 L499.9,976.4 L501.9,976.1 L503.9,975.7 L505.8,975.4 L507.8,975.1 L509.8,974.7 L511.8,974.4 L513.8,974.0 L515.8,973.7 L517.7,973.3 L519.7,973.0 L521.7,972.6 L523.7,972.2 L525.7,971.9 L527.6,971.5 L529.6,971.1 L531.6,970.7 L533.5,970.3 L535.5,969.9 L537.5,969.5 L539.4,969.0 L541.4,968.6 L543.3,968.1 L545.3,967.6 L547.2,967.2 L549.1,966.7 L551.1,966.1 L553.0,965.6 L554.9,965.1 L556.8,964.5 L558.7,963.9 L560.6,963.3 L562.5,962.7 L564.4,962.1 L566.3,961.4 L568.2,960.8 L570.0,960.1 L571.9,959.3 L573.8,958.6 L575.6,957.9 L577.4,957.1 L579.3,956.3 L581.1,955.4 L582.9,954.6 L584.7,953.7 L586.5,952.9 L588.2,952.0 L590.0,951.0 L591.8,950.1 L593.5,949.1 L595.3,948.1 L597.0,947.1 L598.7,946.1 L600.4,945.1 L602.1,944.0 L603.8,942.9 L605.4,941.8 L607.1,940.7 L608.7,939.6 L610.4,938.4 L612.0,937.3 L613.6,936.1 L615.2,934.9 L616.7,933.7 L618.3,932.4 L619.9,931.2 L621.4,929.9 L622.9,928.6 L624.4,927.3 L625.9,926.0 L627.4,924.6 L628.8,923.3 L630.3,921.9 L631.7,920.5 L633.1,919.1 L634.5,917.7 L635.8,916.3 L637.2,914.9 L638.5,913.4 L639.9,911.9 L641.2,910.4 L642.4,908.9 L643.7,907.4 L645.0,905.9 L646.2,904.3 L647.4,902.8 L648.6,901.2 L649.8,899.6 L650.9,898.1 L652.1,896.4 L653.2,894.8 L654.3,893.2 L655.4,891.6 L656.5,889.9 L657.6,888.3 L658.7,886.6 L659.7,884.9 L660.7,883.2 L661.7,881.5 L662.7,879.8 L663.7,878.1 L664.7,876.3 L665.7,874.6 L666.6,872.9 L667.6,871.1 L668.5,869.3 L669.4,867.6 L670.3,865.8 L671.2,864.0 L672.1,862.2 L673.0,860.4 L673.8,858.6 L674.7,856.8 L675.5,854.9 L676.4,853.1 L677.2,851.3 L678.0,849.5 L678.8,847.6 L679.6,845.8 L680.4,843.9 L681.2,842.0 L682.0,840.2 L682.7,838.3 L683.5,836.5 L684.3,834.6 L685.0,832.7 L685.8,830.8 L686.5,828.9 L687.2,827.1 L688.0,825.2 L688.7,823.3 L689.4,821.4 L690.1,819.5 L690.8,817.6 L691.6,815.7 L692.3,813.8 L693.0,811.9 L693.7,810.0 L694.4,808.1 L695.1,806.2 L695.7,804.3 L696.4,802.4 L697.1,800.6 L697.8,798.7 L698.5,796.8 L699.2,794.9 L699.9,793.0 L700.6,791.1 L701.2,789.2 L701.9,787.3 L702.6,785.5 L703.3,783.6 L704.0,781.7 L704.7,779.9 L705.4,778.0 L706.1,776.1 L706.7,774.3 L707.4,772.4 L708.1,770.5 L708.8,768.7 L709.5,766.8 L710.2,765.0 L710.8,763.1 L711.5,761.3 L712.2,759.4 L712.9,757.6 L713.5,755.7 L714.2,753.8 L714.8,752.0 L715.5,750.1 L716.1,748.3 L716.8,746.4 L717.4,744.5 L718.0,742.7 L718.6,740.8 L719.2,738.9 L719.8,737.0 L720.4,735.1 L721.0,733.2 L721.6,731.3 L722.1,729.4 L722.7,727.5 L723.2,725.6 L723.7,723.7 L724.2,721.8 L724.7,719.9 L725.2,717.9 L725.7,716.0 L726.2,714.0 L726.6,712.1 L727.1,710.1 L727.5,708.1 L728.0,706.2 L728.4,704.2 L728.8,702.2 L729.2,700.2 L729.7,698.3 L730.1,696.3 L730.5,694.3 L730.9,692.3 L731.3,690.3 L731.7,688.3 L732.1,686.4 L732.5,684.4 L733.0,682.4 L733.4,680.4 L733.8,678.4 L734.2,676.5 L734.7,674.5 L735.1,672.5 L735.6,670.6 L736.0,668.6 L736.5,666.7 L737.0,664.7 L737.5,662.8 L738.0,660.8 L738.5,658.9 L739.0,657.0 L739.6,655.1 L740.1,653.2 L740.7,651.3 L741.3,649.4 L741.9,647.5 L742.6,645.6 L743.2,643.8 L743.9,641.9 L744.6,640.1 L745.3,638.3 L746.0,636.4 L746.8,634.6 L747.5,632.8 L748.3,631.0 L749.1,629.2 L750.0,627.4 L750.8,625.6 L751.6,623.8 L752.5,621.9 L753.4,620.1 L754.3,618.3 L755.2,616.4 L756.1,614.5 L757.0,612.7 L758.0,610.8 L758.9,608.8 L759.9,606.9 L760.9,605.0 L761.9,603.2 L763.0,601.5 L764.1,600.0 L765.3,598.6 L766.6,597.6 L767.9,596.8 L769.4,596.3 L771.0,596.2 L772.7,596.5 L774.5,597.1 L776.3,597.9 L778.1,599.0 L779.9,600.3 L781.6,601.7 L783.2,603.2 L784.7,604.8 L786.1,606.4 L787.3,608.0 L788.5,609.7 L789.6,611.4 L790.5,613.2 L791.4,615.0 L792.2,616.8 L793.0,618.6 L793.7,620.5 L794.3,622.4 L794.9,624.3 L795.5,626.2 L796.0,628.1 L796.5,630.0 L797.0,632.0 L797.5,633.9 L797.9,635.8 L798.4,637.8 L798.9,639.7 L799.4,641.6 L800.0,643.6 L800.5,645.5 L801.0,647.4 L801.5,649.3 L802.1,651.3 L802.6,653.2 L803.1,655.1 L803.6,657.0 L804.1,659.0 L804.7,660.9 L805.2,662.8 L805.6,664.7 L806.1,666.7 L806.6,668.6 L807.1,670.5 L807.5,672.5 L807.9,674.4 L808.3,676.4 L808.8,678.3 L809.1,680.3 L809.5,682.2 L809.9,684.2 L810.3,686.2 L810.6,688.1 L810.9,690.1 L811.3,692.1 L811.6,694.0 L811.9,696.0 L812.2,698.0 L812.5,700.0 L812.8,702.0 L813.1,703.9 L813.4,705.9 L813.6,707.9 L813.9,709.9 L814.1,711.9 L814.4,713.9 L814.6,715.9 L814.9,717.8 L815.1,719.8 L815.4,721.8 L815.6,723.8 L815.8,725.8 L816.1,727.8 L816.3,729.8 L816.5,731.8 L816.8,733.8 L817.0,735.8 L817.2,737.8 L817.5,739.8 L817.7,741.8 L817.9,743.8 L818.2,745.7 L818.4,747.7 L818.6,749.7 L818.9,751.7 L819.1,753.7 L819.4,755.7 L819.7,757.7 L819.9,759.7 L820.2,761.6 L820.5,763.6 L820.7,765.6 L821.0,767.6 L821.3,769.5 L821.6,771.5 L821.9,773.5 L822.3,775.4 L822.6,777.4 L822.9,779.4 L823.3,781.3 L823.6,783.3 L824.0,785.2 L824.4,787.2 L824.8,789.1 L825.2,791.1 L825.6,793.0 L826.0,794.9 L826.4,796.9 L826.9,798.8 L827.4,800.7 L827.8,802.6 L828.3,804.6 L828.9,806.5 L829.4,808.4 L829.9,810.3 L830.5,812.2 L831.1,814.1 L831.7,816.0 L832.3,817.8 L832.9,819.7 L833.6,821.6 L834.2,823.5 L834.9,825.3 L835.6,827.2 L836.3,829.1 L837.1,830.9 L837.8,832.8 L838.6,834.7 L839.4,836.6 L840.2,838.5 L841.0,840.4 L841.9,842.3 L842.7,844.2 L843.6,846.1 L844.5,848.0 L845.4,850.0 L846.3,851.9 L847.2,853.9 L848.2,855.8 L849.2,857.7 L850.2,859.6 L851.3,861.3 L852.4,862.8 L853.6,864.2 L854.8,865.3 L856.2,866.2 L857.6,866.9 L859.1,867.1 L860.6,867.1 L862.3,866.9 L863.9,866.3 L865.6,865.6 L867.3,864.6 L869.1,863.5 L870.7,862.2 L872.4,860.8 L874.0,859.3 L875.5,857.8 L876.9,856.2 L878.2,854.6 L879.5,853.0 L880.6,851.3 L881.7,849.6 L882.8,847.9 L883.7,846.1 L884.7,844.3 L885.5,842.6 L886.3,840.7 L887.1,838.9 L887.8,837.1 L888.5,835.2 L889.2,833.4 L889.9,831.5 L890.5,829.6 L891.2,827.8 L891.8,825.9 L892.4,824.0 L893.1,822.1 L893.7,820.2 L894.4,818.4 L895.0,816.5 L895.7,814.6 L896.4,812.7 L897.1,810.8 L897.7,809.0 L898.4,807.1 L899.1,805.2 L899.8,803.3 L900.5,801.4 L901.1,799.6 L901.8,797.7 L902.5,795.8 L903.2,793.9 L903.8,792.0 L904.5,790.1 L905.1,788.2 L905.8,786.3 L906.4,784.4 L907.0,782.5 L907.7,780.6 L908.3,778.7 L908.9,776.8 L909.5,774.9 L910.1,773.0 L910.7,771.1 L911.3,769.2 L911.9,767.3 L912.5,765.4 L913.0,763.5 L913.6,761.6 L914.2,759.7 L914.8,757.7 L915.3,755.8 L915.9,753.9 L916.4,752.0 L917.0,750.1 L917.5,748.1 L918.0,746.2 L918.6,744.3 L919.1,742.4 L919.6,740.4 L920.1,738.5 L920.7,736.6 L921.2,734.7 L921.7,732.7 L922.2,730.8 L922.7,728.9 L923.2,726.9 L923.7,725.0 L924.2,723.0 L924.6,721.1 L925.1,719.2 L925.6,717.2 L926.1,715.3 L926.5,713.4 L927.0,711.4 L927.5,709.5 L927.9,707.5 L928.4,705.6 L928.8,703.6 L929.3,701.7 L929.7,699.7 L930.2,697.8 L930.6,695.8 L931.1,693.9 L931.5,691.9 L931.9,690.0 L932.4,688.0 L932.8,686.1 L933.2,684.1 L933.6,682.2 L934.1,680.2 L934.5,678.3 L934.9,676.3 L935.3,674.4 L935.7,672.4 L936.1,670.4 L936.6,668.5 L937.0,666.5 L937.4,664.6 L937.8,662.6 L938.2,660.7 L938.6,658.7 L939.0,656.7 L939.4,654.8 L939.7,652.8 L940.1,650.9 L940.5,648.9 L940.9,646.9 L941.3,645.0 L941.7,643.0 L942.1,641.0 L942.5,639.1 L942.8,637.1 L943.2,635.2 L943.6,633.2 L944.0,631.2 L944.4,629.3 L944.7,627.3 L945.1,625.3 L945.5,623.4 L945.9,621.4 L946.3,619.4 L946.6,617.5 L947.0,615.5 L947.4,613.5 L947.7,611.6 L948.1,609.6 L948.5,607.7 L948.9,605.7 L949.2,603.7 L949.6,601.8 L950.0,599.8 L950.4,597.8 L950.7,595.9 L951.1,593.9 L951.5,591.9 L951.9,590.0 L952.2,588.0 L952.6,586.1 L953.0,584.1 L953.4,582.1 L953.7,580.2 L954.1,578.2 L954.5,576.2 L954.9,574.3 L955.2,572.3 L955.6,570.4 L956.0,568.4 L956.4,566.4 L956.8,564.5 L957.2,562.5 L957.5,560.6 L957.9,558.6 L958.3,556.6 L958.7,554.7 L959.1,552.7 L959.5,550.8 L959.9,548.8 L960.3,546.9 L960.7,544.9 L961.1,543.0 L961.5,541.0 L961.9,539.1 L962.3,537.1 L962.7,535.2 L963.1,533.2 L963.5,531.3 L963.9,529.3 L964.3,527.4 L964.7,525.4 L965.2,523.5 L965.6,521.5 L966.0,519.6 L966.4,517.6 L966.9,515.7 L967.3,513.8 L967.7,511.8 L968.2,509.9 L968.6,507.9 L969.0,506.0 L969.5,504.1 L969.9,502.1 L970.4,500.2 L970.9,498.2 L971.3,496.3 L971.8,494.3 L972.2,492.4 L972.7,490.4 L973.2,488.5 L973.7,486.5 L974.2,484.5 L974.6,482.6 L975.1,480.6 L975.6,478.6 L976.1,476.6 L976.7,474.6 L977.2,472.7 L977.7,470.7 L978.3,468.7 L978.9,466.8 L979.6,464.8 L980.3,462.9 L981.0,461.1 L981.7,459.2 L982.6,457.4 L983.4,455.6 L984.4,453.9 L985.4,452.2 L986.4,450.5 L987.6,448.9 L988.8,447.4 L990.1,445.9 L991.5,444.4 L992.9,443.1 L994.5,441.8 L996.1,440.7 L997.7,439.9 L999.3,439.3 L1000.8,439.1 L1002.2,439.3 L1003.6,439.9 L1004.8,440.9 L1006.0,442.2 L1007.1,443.8 L1008.1,445.6 L1009.1,447.5 L1010.0,449.5 L1010.9,451.5 L1011.8,453.5 L1012.7,455.4 L1013.5,457.4 L1014.3,459.3 L1015.1,461.3 L1015.9,463.2 L1016.7,465.1 L1017.4,467.0 L1018.2,468.9 L1018.9,470.8 L1019.6,472.7 L1020.2,474.6 L1020.9,476.5 L1021.5,478.4 L1022.2,480.2 L1022.8,482.1 L1023.4,484.0 L1024.0,485.9 L1024.6,487.8 L1025.2,489.7 L1025.8,491.6 L1026.3,493.5 L1026.9,495.4 L1027.4,497.3 L1028.0,499.2 L1028.5,501.1 L1029.0,503.0 L1029.5,504.9 L1030.0,506.8 L1030.5,508.7 L1031.0,510.6 L1031.5,512.6 L1032.0,514.5 L1032.5,516.4 L1032.9,518.4 L1033.4,520.3 L1033.8,522.2 L1034.3,524.2 L1034.7,526.1 L1035.1,528.0 L1035.6,530.0 L1036.0,531.9 L1036.4,533.9 L1036.8,535.8 L1037.2,537.8 L1037.6,539.7 L1038.0,541.7 L1038.4,543.6 L1038.8,545.6 L1039.2,547.5 L1039.6,549.5 L1039.9,551.5 L1040.3,553.4 L1040.7,555.4 L1041.0,557.4 L1041.4,559.3 L1041.8,561.3 L1042.1,563.3 L1042.5,565.2 L1042.8,567.2 L1043.2,569.2 L1043.5,571.1 L1043.9,573.1 L1044.2,575.1 L1044.6,577.0 L1044.9,579.0 L1045.2,581.0 L1045.6,583.0 L1045.9,584.9 L1046.3,586.9 L1046.6,588.9 L1046.9,590.9 L1047.3,592.8 L1047.6,594.8 L1047.9,596.8 L1048.3,598.8 L1048.6,600.8 L1049.0,602.7 L1049.3,604.7 L1049.6,606.7 L1050.0,608.7 L1050.3,610.6 L1050.7,612.6 L1051.0,614.6 L1051.4,616.6 L1051.7,618.5 L1052.1,620.5 L1052.4,622.5 L1052.8,624.4 L1053.2,626.4 L1053.5,628.4 L1053.9,630.4 L1054.3,632.3 L1054.6,634.3 L1055.0,636.3 L1055.4,638.2 L1055.8,640.2 L1056.2,642.1 L1056.6,644.1 L1057.0,646.1 L1057.4,648.0 L1057.8,650.0 L1058.2,651.9 L1058.6,653.9 L1059.0,655.9 L1059.4,657.8 L1059.9,659.8 L1060.3,661.7 L1060.7,663.7 L1061.2,665.6 L1061.6,667.6 L1062.0,669.5 L1062.5,671.5 L1062.9,673.4 L1063.4,675.4 L1063.8,677.3 L1064.3,679.3 L1064.7,681.2 L1065.2,683.2 L1065.7,685.1 L1066.1,687.0 L1066.6,689.0 L1067.1,690.9 L1067.5,692.9 L1068.0,694.8 L1068.5,696.7 L1069.0,698.7 L1069.5,700.6 L1069.9,702.6 L1070.4,704.5 L1070.9,706.4 L1071.4,708.4 L1071.9,710.3 L1072.4,712.2 L1072.9,714.2 L1073.4,716.1 L1073.9,718.0 L1074.4,720.0 L1074.9,721.9 L1075.4,723.8 L1075.9,725.8 L1076.4,727.7 L1076.9,729.6 L1077.5,731.6 L1078.0,733.5 L1078.5,735.4 L1079.0,737.3 L1079.5,739.3 L1080.0,741.2 L1080.6,743.1 L1081.1,745.1 L1081.6,747.0 L1082.1,748.9 L1082.7,750.8 L1083.2,752.8 L1083.7,754.7 L1084.2,756.6 L1084.8,758.5 L1085.3,760.5 L1085.8,762.4 L1086.4,764.3 L1086.9,766.2 L1087.4,768.2 L1088.0,770.1 L1088.5,772.0 L1089.0,773.9 L1089.6,775.9 L1090.1,777.8 L1090.6,779.7 L1091.2,781.6 L1091.7,783.6 L1092.3,785.5 L1092.8,787.4 L1093.3,789.3 L1093.9,791.2 L1094.4,793.2 L1094.9,795.1 L1095.5,797.0 L1096.0,798.9 L1096.6,800.9 L1097.1,802.8 L1097.6,804.7 L1098.2,806.6 L1098.7,808.6 L1099.2,810.5 L1099.8,812.4 L1100.3,814.3 L1100.9,816.2 L1101.4,818.2 L1101.9,820.1 L1102.5,822.0 L1103.0,823.9 L1103.6,825.9 L1104.1,827.8 L1104.7,829.7 L1105.2,831.6 L1105.8,833.5 L1106.3,835.4 L1106.9,837.4 L1107.5,839.3 L1108.0,841.2 L1108.6,843.1 L1109.1,845.0 L1109.7,846.9 L1110.3,848.8 L1110.9,850.8 L1111.4,852.7 L1112.0,854.6 L1112.6,856.5 L1113.2,858.4 L1113.8,860.3 L1114.4,862.2 L1115.0,864.1 L1115.6,866.0 L1116.2,867.9 L1116.8,869.8 L1117.4,871.7 L1118.0,873.6 L1118.6,875.5 L1119.2,877.4 L1119.9,879.3 L1120.5,881.2 L1121.1,883.1 L1121.8,884.9 L1122.4,886.8 L1123.1,888.7 L1123.8,890.6 L1124.4,892.5 L1125.1,894.3 L1125.8,896.2 L1126.4,898.1 L1127.1,900.0 L1127.8,901.8 L1128.5,903.7 L1129.2,905.6 L1129.9,907.4 L1130.7,909.3 L1131.4,911.2 L1132.1,913.0 L1132.9,914.9 L1133.6,916.7 L1134.4,918.6 L1135.1,920.4 L1135.9,922.3 L1136.6,924.1 L1137.4,926.0 L1138.2,927.8 L1139.0,929.6 L1139.8,931.5 L1140.6,933.3 L1141.4,935.1 L1142.3,937.0 L1143.1,938.8 L1144.0,940.6 L1144.8,942.4 L1145.7,944.2 L1146.5,946.0 L1147.4,947.9 L1148.3,949.7 L1149.2,951.5 L1150.1,953.3 L1151.0,955.1 L1151.9,956.9 L1152.9,958.6 L1153.8,960.4 L1154.8,962.2 L1155.7,964.0 L1156.7,965.8 L1157.7,967.5 L1158.7,969.3 L1159.7,971.0 L1160.7,972.8 L1161.8,974.5 L1162.8,976.2 L1163.9,977.9 L1165.0,979.6 L1166.1,981.3 L1167.2,983.0 L1168.3,984.6 L1169.4,986.3 L1170.6,987.9 L1171.8,989.5 L1173.0,991.0 L1174.2,992.6 L1175.4,994.1 L1176.7,995.7 L1178.0,997.1 L1179.3,998.6 L1180.6,1000.1 L1182.0,1001.5 L1183.3,1002.9 L1184.7,1004.2 L1186.1,1005.6 L1187.6,1006.9 L1189.0,1008.2 L1190.5,1009.4 L1192.0,1010.6 L1193.6,1011.8 L1195.2,1013.0 L1196.8,1014.1 L1198.4,1015.2 L1200.0,1016.2 L1201.7,1017.2 L1203.4,1018.2 L1205.1,1019.2 L1206.8,1020.1 L1208.6,1021.0 L1210.4,1021.9 L1212.2,1022.7 L1214.0,1023.5 L1215.8,1024.3 L1217.7,1025.1 L1219.5,1025.8 L1221.4,1026.5 L1223.3,1027.2 L1225.2,1027.9 L1227.1,1028.5 L1229.1,1029.2 L1231.0,1029.8 L1233.0,1030.3 L1234.9,1030.9 L1236.9,1031.4 L1238.9,1032.0 L1240.8,1032.5 L1242.8,1033.0 L1244.8,1033.4 L1246.8,1033.9 L1248.8,1034.3 L1250.8,1034.8 L1252.7,1035.2 L1254.7,1035.6 L1256.7,1036.0 L1258.7,1036.3 L1260.7,1036.7 L1262.7,1037.1 L1264.7,1037.4 L1266.6,1037.7 L1268.6,1038.0 L1270.6,1038.3 L1272.6,1038.6 L1274.6,1038.9 L1276.5,1039.2 L1278.5,1039.5 L1280.5,1039.7 L1282.5,1040.0 L1284.5,1040.2 L1286.4,1040.4 L1288.4,1040.7 L1290.4,1040.9 L1292.4,1041.1 L1294.4,1041.3 L1296.3,1041.4 L1298.3,1041.6 L1300.3,1041.8 L1302.3,1042.0 L1304.2,1042.1 L1306.2,1042.3 L1308.2,1042.4 L1310.2,1042.5 L1312.2,1042.7 L1314.1,1042.8 L1316.1,1042.9 L1318.1,1043.0 L1320.1,1043.1 L1322.1,1043.2 L1324.0,1043.3 L1326.0,1043.4 L1328.0,1043.5 L1330.0,1043.6 L1332.0,1043.7 L1334.0,1043.8 L1336.0,1043.9 L1337.9,1043.9 L1339.9,1044.0 L1341.9,1044.1 L1343.9,1044.1 L1345.9,1044.2 L1347.9,1044.3 L1349.9,1044.3 L1351.9,1044.4 L1353.9,1044.5 L1355.9,1044.5 L1357.9,1044.6 L1359.9,1044.6 L1361.9,1044.7 L1363.9,1044.8 L1365.9,1044.8 L1367.9,1044.9 L1369.9,1044.9 L1371.9,1045.0 L1373.9,1045.1 L1375.9,1045.1 L1377.9,1045.2 L1379.9,1045.3 L1381.9,1045.3 L1384.0,1045.4 L1386.0,1045.5 L1388.0,1045.6 L1390.0,1045.6 L1392.0,1045.7 L1394.1,1045.8 L1396.1,1045.9 L1398.1,1046.0 L1400.2,1046.1 L1402.2,1046.2" stroke="#0505e6" stroke-width="8" fill="none" stroke-linejoin="round" stroke-linecap="round"/>
<path d="M155.9,1017.3 L157.9,1017.5 L159.9,1017.6 L161.9,1017.8 L164.0,1017.9 L166.0,1017.9 L168.0,1018.0 L170.0,1018.0 L172.0,1018.0 L174.0,1018.0 L176.0,1018.0 L178.0,1018.0 L180.0,1017.9 L182.0,1017.8 L184.0,1017.7 L186.0,1017.6 L188.0,1017.4 L190.0,1017.3 L192.0,1017.1 L194.0,1016.9 L196.0,1016.7 L198.0,1016.5 L200.0,1016.3 L201.9,1016.1 L203.9,1015.8 L205.9,1015.5 L207.9,1015.2 L209.9,1015.0 L211.8,1014.6 L213.8,1014.3 L215.8,1014.0 L217.7,1013.7 L219.7,1013.3 L221.7,1013.0 L223.6,1012.6 L225.6,1012.2 L227.6,1011.8 L229.5,1011.4 L231.5,1011.1 L233.5,1010.6 L235.4,1010.2 L237.4,1009.8 L239.4,1009.4 L241.3,1009.0 L243.3,1008.6 L245.2,1008.1 L247.2,1007.7 L249.1,1007.2 L251.1,1006.8 L253.1,1006.4 L255.0,1005.9 L257.0,1005.5 L258.9,1005.0 L260.9,1004.6 L262.8,1004.1 L264.8,1003.7 L266.8,1003.2 L268.7,1002.8 L270.7,1002.3 L272.6,1001.9 L274.6,1001.5 L276.5,1001.0 L278.5,1000.6 L280.5,1000.2 L282.4,999.8 L284.4,999.4 L286.3,998.9 L288.3,998.5 L290.3,998.1 L292.2,997.8 L294.2,997.4 L296.1,997.0 L298.1,996.6 L300.1,996.3 L302.0,995.9 L304.0,995.6 L306.0,995.3 L308.0,995.0 L309.9,994.7 L311.9,994.4 L313.9,994.1 L315.8,993.8 L317.8,993.5 L319.8,993.3 L321.8,993.1 L323.7,992.8 L325.7,992.6 L327.7,992.4 L329.7,992.2 L331.7,992.0 L333.7,991.8 L335.6,991.6 L337.6,991.4 L339.6,991.2 L341.6,991.1 L343.6,990.9 L345.6,990.8 L347.6,990.6 L349.5,990.5 L351.5,990.3 L353.5,990.2 L355.5,990.1 L357.5,990.0 L359.5,989.9 L361.5,989.8 L363.5,989.7 L365.5,989.6 L367.5,989.5 L369.5,989.4 L371.5,989.3 L373.4,989.2 L375.4,989.1 L377.4,989.0 L379.4,988.9 L381.4,988.9 L383.4,988.8 L385.4,988.7 L387.4,988.6 L389.4,988.6 L391.4,988.5 L393.4,988.4 L395.4,988.4 L397.4,988.3 L399.4,988.2 L401.4,988.2 L403.4,988.1 L405.4,988.0 L407.4,987.9 L409.4,987.9 L411.4,987.8 L413.4,987.7 L415.4,987.6 L417.4,987.6 L419.4,987.5 L421.3,987.4 L423.3,987.3 L425.3,987.2 L427.3,987.1 L429.3,987.0 L431.3,986.9 L433.3,986.8 L435.3,986.7 L437.3,986.6 L439.3,986.4 L441.3,986.3 L443.3,986.2 L445.3,986.0 L447.2,985.9 L449.2,985.7 L451.2,985.6 L453.2,985.4 L455.2,985.3 L457.2,985.1 L459.2,984.9 L461.2,984.8 L463.1,984.6 L465.1,984.4 L467.1,984.2 L469.1,984.0 L471.1,983.9 L473.1,983.7 L475.1,983.5 L477.1,983.3 L479.0,983.1 L481.0,982.9 L483.0,982.6 L485.0,982.4 L487.0,982.2 L489.0,982.0 L491.0,981.8 L493.0,981.6 L494.9,981.3 L496.9,981.1 L498.9,980.9 L500.9,980.6 L502.9,980.4 L504.9,980.2 L506.9,979.9 L508.9,979.7 L510.9,979.4 L512.8,979.2 L514.8,978.9 L516.8,978.7 L518.8,978.4 L520.8,978.1 L522.8,977.9 L524.8,977.6 L526.7,977.3 L528.7,977.0 L530.7,976.7 L532.7,976.4 L534.7,976.0 L536.6,975.7 L538.6,975.3 L540.6,975.0 L542.5,974.6 L544.5,974.2 L546.4,973.8 L548.4,973.4 L550.3,972.9 L552.3,972.5 L554.2,972.0 L556.1,971.5 L558.1,971.0 L560.0,970.5 L561.9,969.9 L563.8,969.3 L565.7,968.8 L567.6,968.1 L569.5,967.5 L571.4,966.9 L573.3,966.2 L575.2,965.5 L577.0,964.8 L578.9,964.1 L580.7,963.3 L582.6,962.5 L584.4,961.7 L586.2,960.9 L588.1,960.1 L589.9,959.2 L591.7,958.4 L593.5,957.5 L595.2,956.6 L597.0,955.6 L598.8,954.7 L600.5,953.7 L602.3,952.7 L604.0,951.7 L605.7,950.7 L607.4,949.7 L609.1,948.6 L610.8,947.6 L612.5,946.5 L614.1,945.3 L615.8,944.2 L617.4,943.1 L619.0,941.9 L620.6,940.7 L622.2,939.5 L623.8,938.3 L625.4,937.1 L627.0,935.8 L628.5,934.6 L630.0,933.3 L631.5,932.0 L633.0,930.7 L634.5,929.4 L636.0,928.0 L637.4,926.6 L638.9,925.3 L640.3,923.9 L641.7,922.5 L643.1,921.0 L644.5,919.6 L645.8,918.1 L647.2,916.7 L648.5,915.2 L649.8,913.7 L651.1,912.2 L652.3,910.7 L653.6,909.1 L654.8,907.6 L656.0,906.0 L657.2,904.4 L658.4,902.8 L659.5,901.2 L660.7,899.6 L661.8,897.9 L662.9,896.3 L664.0,894.6 L665.0,892.9 L666.0,891.2 L667.1,889.5 L668.0,887.8 L669.0,886.1 L670.0,884.4 L670.9,882.6 L671.8,880.8 L672.7,879.1 L673.6,877.3 L674.5,875.5 L675.3,873.7 L676.2,871.9 L677.0,870.1 L677.8,868.3 L678.6,866.4 L679.4,864.6 L680.2,862.8 L681.0,860.9 L681.8,859.1 L682.6,857.2 L683.3,855.4 L684.1,853.5 L684.9,851.6 L685.6,849.8 L686.4,847.9 L687.1,846.0 L687.9,844.2 L688.6,842.3 L689.4,840.4 L690.2,838.6 L690.9,836.7 L691.7,834.9 L692.5,833.0 L693.3,831.1 L694.0,829.3 L694.8,827.4 L695.6,825.6 L696.4,823.7 L697.2,821.9 L698.0,820.1 L698.8,818.2 L699.6,816.4 L700.4,814.5 L701.2,812.7 L702.1,810.9 L702.9,809.0 L703.7,807.2 L704.4,805.3 L705.2,803.5 L706.0,801.7 L706.8,799.8 L707.6,798.0 L708.4,796.1 L709.1,794.3 L709.9,792.4 L710.6,790.6 L711.4,788.8 L712.1,786.9 L712.8,785.0 L713.6,783.2 L714.3,781.3 L715.0,779.5 L715.6,777.6 L716.3,775.7 L717.0,773.9 L717.6,772.0 L718.2,770.1 L718.8,768.2 L719.4,766.3 L720.0,764.4 L720.6,762.5 L721.2,760.6 L721.8,758.7 L722.3,756.8 L722.8,754.9 L723.4,753.0 L723.9,751.1 L724.4,749.2 L724.9,747.3 L725.5,745.4 L726.0,743.5 L726.5,741.5 L727.0,739.6 L727.4,737.7 L727.9,735.8 L728.4,733.8 L728.9,731.9 L729.4,730.0 L729.9,728.0 L730.4,726.1 L730.9,724.2 L731.4,722.3 L731.8,720.3 L732.3,718.4 L732.8,716.5 L733.3,714.5 L733.8,712.6 L734.4,710.7 L734.9,708.7 L735.4,706.8 L735.9,704.9 L736.5,702.9 L737.0,701.0 L737.6,699.1 L738.1,697.1 L738.7,695.2 L739.3,693.3 L739.9,691.4 L740.5,689.5 L741.1,687.5 L741.8,685.6 L742.4,683.7 L743.1,681.8 L743.8,679.9 L744.5,678.0 L745.2,676.1 L745.9,674.2 L746.6,672.3 L747.4,670.4 L748.2,668.5 L749.0,666.6 L749.8,664.7 L750.6,662.8 L751.5,660.9 L752.4,659.1 L753.3,657.2 L754.2,655.4 L755.2,653.6 L756.3,651.9 L757.3,650.2 L758.5,648.6 L759.7,647.1 L760.9,645.7 L762.3,644.4 L763.7,643.2 L765.2,642.1 L766.8,641.1 L768.4,640.3 L770.2,639.7 L772.1,639.2 L774.0,638.9 L776.0,638.8 L777.9,638.9 L779.8,639.3 L781.6,639.9 L783.2,640.7 L784.6,641.9 L785.9,643.3 L786.9,644.9 L787.8,646.7 L788.7,648.5 L789.5,650.5 L790.3,652.4 L791.0,654.3 L791.8,656.2 L792.5,658.1 L793.3,660.0 L794.0,661.9 L794.7,663.8 L795.4,665.7 L796.1,667.6 L796.8,669.5 L797.4,671.4 L798.1,673.3 L798.8,675.2 L799.4,677.1 L800.0,679.0 L800.7,680.9 L801.3,682.8 L801.9,684.7 L802.5,686.6 L803.1,688.4 L803.6,690.3 L804.2,692.2 L804.8,694.2 L805.3,696.1 L805.9,698.0 L806.4,699.9 L807.0,701.8 L807.5,703.7 L808.0,705.6 L808.5,707.6 L809.1,709.5 L809.6,711.4 L810.1,713.4 L810.6,715.3 L811.1,717.2 L811.6,719.2 L812.1,721.1 L812.6,723.1 L813.1,725.0 L813.7,726.9 L814.2,728.9 L814.7,730.8 L815.2,732.8 L815.7,734.7 L816.2,736.6 L816.8,738.6 L817.3,740.5 L817.8,742.4 L818.4,744.4 L818.9,746.3 L819.5,748.2 L820.1,750.1 L820.6,752.1 L821.2,754.0 L821.8,755.9 L822.4,757.8 L823.0,759.7 L823.7,761.6 L824.3,763.5 L825.0,765.4 L825.6,767.3 L826.3,769.1 L827.0,771.0 L827.7,772.9 L828.4,774.7 L829.2,776.6 L829.9,778.4 L830.7,780.3 L831.5,782.1 L832.3,783.9 L833.2,785.7 L834.0,787.6 L834.9,789.3 L835.8,791.1 L836.7,792.9 L837.6,794.7 L838.6,796.4 L839.5,798.2 L840.6,799.9 L841.6,801.7 L842.6,803.4 L843.7,805.1 L844.8,806.8 L845.9,808.5 L847.1,810.1 L848.3,811.7 L849.5,813.2 L850.8,814.6 L852.2,815.8 L853.6,816.8 L855.0,817.5 L856.6,818.0 L858.2,818.1 L859.9,817.8 L861.7,817.2 L863.4,816.3 L865.2,815.3 L867.0,814.0 L868.6,812.6 L870.2,811.1 L871.7,809.5 L873.1,807.9 L874.4,806.2 L875.6,804.4 L876.7,802.6 L877.8,800.8 L878.8,798.9 L879.7,797.1 L880.6,795.2 L881.4,793.3 L882.2,791.5 L882.9,789.6 L883.6,787.8 L884.3,785.9 L884.9,784.1 L885.6,782.3 L886.3,780.4 L887.0,778.6 L887.7,776.8 L888.5,775.0 L889.2,773.2 L889.9,771.3 L890.7,769.5 L891.5,767.7 L892.2,765.9 L893.0,764.0 L893.8,762.2 L894.6,760.4 L895.4,758.6 L896.2,756.8 L897.0,754.9 L897.8,753.1 L898.6,751.3 L899.4,749.4 L900.2,747.6 L901.0,745.8 L901.8,743.9 L902.6,742.1 L903.3,740.2 L904.1,738.4 L904.8,736.5 L905.6,734.7 L906.3,732.8 L907.0,730.9 L907.7,729.1 L908.4,727.2 L909.1,725.3 L909.8,723.4 L910.4,721.5 L911.1,719.7 L911.7,717.8 L912.4,715.9 L913.0,714.0 L913.6,712.1 L914.2,710.2 L914.8,708.2 L915.4,706.3 L916.0,704.4 L916.6,702.5 L917.2,700.6 L917.8,698.7 L918.3,696.8 L918.9,694.9 L919.5,693.0 L920.1,691.1 L920.7,689.2 L921.3,687.3 L921.9,685.4 L922.5,683.5 L923.1,681.6 L923.8,679.7 L924.4,677.8 L925.0,675.9 L925.7,674.0 L926.3,672.2 L927.0,670.3 L927.7,668.4 L928.4,666.6 L929.1,664.7 L929.9,662.9 L930.6,661.0 L931.4,659.2 L932.2,657.3 L932.9,655.5 L933.8,653.7 L934.6,651.9 L935.4,650.1 L936.3,648.3 L937.2,646.5 L938.1,644.7 L939.0,642.9 L939.9,641.1 L940.8,639.4 L941.8,637.6 L942.8,635.9 L943.8,634.1 L944.8,632.4 L945.8,630.6 L946.8,628.9 L947.8,627.1 L948.9,625.4 L950.0,623.7 L951.1,622.0 L952.2,620.3 L953.3,618.6 L954.4,616.9 L955.6,615.2 L956.7,613.5 L957.9,611.8 L959.1,610.1 L960.3,608.5 L961.6,607.0 L962.9,605.6 L964.3,604.3 L965.9,603.2 L967.5,602.4 L969.3,601.8 L971.1,601.5 L973.1,601.5 L975.0,601.7 L976.9,602.1 L978.7,602.7 L980.3,603.5 L981.9,604.5 L983.4,605.6 L984.8,606.8 L986.1,608.2 L987.4,609.7 L988.6,611.3 L989.7,612.9 L990.8,614.7 L991.8,616.5 L992.8,618.3 L993.8,620.1 L994.7,622.0 L995.7,623.9 L996.6,625.8 L997.4,627.6 L998.3,629.5 L999.1,631.4 L1000.0,633.2 L1000.8,635.1 L1001.6,637.0 L1002.4,638.8 L1003.1,640.7 L1003.9,642.6 L1004.6,644.5 L1005.4,646.3 L1006.1,648.2 L1006.8,650.1 L1007.5,651.9 L1008.2,653.8 L1008.9,655.7 L1009.6,657.6 L1010.2,659.4 L1010.9,661.3 L1011.5,663.2 L1012.2,665.1 L1012.8,666.9 L1013.5,668.8 L1014.1,670.7 L1014.7,672.6 L1015.3,674.4 L1016.0,676.3 L1016.6,678.2 L1017.2,680.1 L1017.8,682.0 L1018.4,683.9 L1019.1,685.7 L1019.7,687.6 L1020.3,689.5 L1020.9,691.4 L1021.5,693.3 L1022.2,695.2 L1022.8,697.1 L1023.4,699.0 L1024.0,700.9 L1024.6,702.8 L1025.2,704.7 L1025.8,706.6 L1026.5,708.4 L1027.1,710.3 L1027.7,712.2 L1028.3,714.1 L1028.9,716.0 L1029.5,717.9 L1030.1,719.8 L1030.7,721.7 L1031.3,723.6 L1032.0,725.6 L1032.6,727.5 L1033.2,729.4 L1033.8,731.3 L1034.4,733.2 L1035.0,735.1 L1035.6,737.0 L1036.2,738.9 L1036.8,740.8 L1037.4,742.7 L1038.0,744.6 L1038.6,746.5 L1039.2,748.4 L1039.8,750.3 L1040.4,752.3 L1041.0,754.2 L1041.6,756.1 L1042.2,758.0 L1042.9,759.9 L1043.5,761.8 L1044.1,763.7 L1044.7,765.6 L1045.3,767.5 L1045.9,769.5 L1046.5,771.4 L1047.1,773.3 L1047.7,775.2 L1048.3,777.1 L1048.9,779.0 L1049.5,780.9 L1050.1,782.8 L1050.7,784.8 L1051.3,786.7 L1051.8,788.6 L1052.4,790.5 L1053.0,792.4 L1053.6,794.3 L1054.2,796.2 L1054.8,798.1 L1055.4,800.1 L1056.0,802.0 L1056.6,803.9 L1057.2,805.8 L1057.8,807.7 L1058.4,809.6 L1059.0,811.5 L1059.6,813.4 L1060.2,815.4 L1060.8,817.3 L1061.4,819.2 L1062.0,821.1 L1062.6,823.0 L1063.2,824.9 L1063.8,826.8 L1064.4,828.7 L1065.0,830.6 L1065.6,832.5 L1066.2,834.4 L1066.8,836.3 L1067.4,838.2 L1068.0,840.1 L1068.7,842.0 L1069.3,843.9 L1069.9,845.8 L1070.5,847.7 L1071.2,849.6 L1071.8,851.5 L1072.4,853.4 L1073.1,855.3 L1073.7,857.2 L1074.3,859.1 L1075.0,860.9 L1075.6,862.8 L1076.3,864.7 L1077.0,866.6 L1077.6,868.5 L1078.3,870.3 L1079.0,872.2 L1079.7,874.1 L1080.4,875.9 L1081.1,877.8 L1081.8,879.7 L1082.5,881.5 L1083.2,883.4 L1083.9,885.2 L1084.6,887.1 L1085.3,889.0 L1086.1,890.8 L1086.8,892.6 L1087.6,894.5 L1088.3,896.3 L1089.1,898.2 L1089.9,900.0 L1090.7,901.8 L1091.4,903.7 L1092.2,905.5 L1093.0,907.3 L1093.9,909.1 L1094.7,910.9 L1095.5,912.8 L1096.4,914.6 L1097.2,916.4 L1098.1,918.2 L1098.9,920.0 L1099.8,921.8 L1100.7,923.6 L1101.6,925.3 L1102.5,927.1 L1103.4,928.9 L1104.3,930.7 L1105.3,932.5 L1106.2,934.2 L1107.2,936.0 L1108.1,937.7 L1109.1,939.5 L1110.1,941.3 L1111.1,943.0 L1112.1,944.7 L1113.2,946.5 L1114.2,948.2 L1115.2,949.9 L1116.3,951.7 L1117.4,953.4 L1118.5,955.1 L1119.5,956.8 L1120.7,958.5 L1121.8,960.1 L1122.9,961.8 L1124.0,963.5 L1125.2,965.1 L1126.4,966.8 L1127.6,968.4 L1128.7,970.1 L1129.9,971.7 L1131.2,973.3 L1132.4,974.9 L1133.6,976.5 L1134.9,978.0 L1136.2,979.6 L1137.4,981.1 L1138.7,982.7 L1140.0,984.2 L1141.4,985.7 L1142.7,987.2 L1144.0,988.7 L1145.4,990.1 L1146.8,991.6 L1148.1,993.0 L1149.5,994.4 L1151.0,995.8 L1152.4,997.2 L1153.8,998.6 L1155.3,999.9 L1156.7,1001.3 L1158.2,1002.6 L1159.7,1003.9 L1161.2,1005.2 L1162.7,1006.4 L1164.3,1007.7 L1165.8,1008.9 L1167.4,1010.1 L1168.9,1011.3 L1170.5,1012.4 L1172.1,1013.6 L1173.8,1014.7 L1175.4,1015.8 L1177.0,1016.9 L1178.7,1017.9 L1180.4,1019.0 L1182.1,1020.0 L1183.8,1021.0 L1185.5,1021.9 L1187.2,1022.8 L1189.0,1023.8 L1190.7,1024.6 L1192.5,1025.5 L1194.3,1026.4 L1196.1,1027.2 L1197.9,1028.0 L1199.8,1028.7 L1201.6,1029.5 L1203.4,1030.2 L1205.3,1030.9 L1207.2,1031.6 L1209.1,1032.3 L1211.0,1032.9 L1212.9,1033.5 L1214.8,1034.2 L1216.7,1034.7 L1218.6,1035.3 L1220.6,1035.8 L1222.5,1036.4 L1224.5,1036.9 L1226.4,1037.4 L1228.4,1037.8 L1230.3,1038.3 L1232.3,1038.7 L1234.3,1039.2 L1236.3,1039.6 L1238.3,1040.0 L1240.3,1040.3 L1242.3,1040.7 L1244.3,1041.0 L1246.3,1041.3 L1248.3,1041.7 L1250.3,1041.9 L1252.3,1042.2 L1254.3,1042.5 L1256.3,1042.7 L1258.3,1043.0 L1260.4,1043.2 L1262.4,1043.4 L1264.4,1043.6 L1266.4,1043.8 L1268.4,1044.0 L1270.4,1044.2 L1272.4,1044.3 L1274.4,1044.4 L1276.4,1044.6 L1278.4,1044.7 L1280.4,1044.8 L1282.4,1044.9 L1284.4,1045.0 L1286.4,1045.1 L1288.4,1045.2 L1290.4,1045.2 L1292.4,1045.3 L1294.4,1045.3 L1296.3,1045.4 L1298.3,1045.4 L1300.3,1045.4 L1302.3,1045.4 L1304.3,1045.4 L1306.3,1045.5 L1308.2,1045.4 L1310.2,1045.4 L1312.2,1045.4 L1314.2,1045.4 L1316.2,1045.4 L1318.1,1045.4 L1320.1,1045.3 L1322.1,1045.3 L1324.1,1045.3 L1326.1,1045.2 L1328.0,1045.2 L1330.0,1045.1 L1332.0,1045.1 L1334.0,1045.0 L1336.0,1045.0 L1337.9,1044.9 L1339.9,1044.8 L1341.9,1044.8 L1343.9,1044.7 L1345.9,1044.7 L1347.9,1044.6 L1349.8,1044.5 L1351.8,1044.5 L1353.8,1044.4 L1355.8,1044.4 L1357.8,1044.3 L1359.8,1044.3 L1361.8,1044.2 L1363.8,1044.2 L1365.8,1044.1 L1367.8,1044.1 L1369.8,1044.0 L1371.8,1044.0 L1373.8,1043.9 L1375.8,1043.9 L1377.9,1043.9 L1379.9,1043.9 L1381.9,1043.9 L1383.9,1043.8 L1385.9,1043.8 L1388.0,1043.8 L1390.0,1043.8 L1392.0,1043.9 L1394.1,1043.9 L1396.1,1043.9 L1398.2,1043.9 L1400.2,1044.0 L1402.3,1044.0" stroke="#10f010" stroke-width="8" fill="none" stroke-linejoin="round" stroke-linecap="round"/>
<path d="M155.5,104 V1062 H1404.5" stroke="#000" stroke-width="8.5" fill="none" stroke-linecap="butt"/>
<path d="M362.3,1062 V1085.5 M779.0,1062 V1085.5 M1193.3,1062 V1085.5 M570.9,1062 V1075.5 M986.3,1062 V1075.5 M1403.5,1062 V1075.5 M155.5,1062 V1075.5" stroke="#000" stroke-width="7" fill="none" stroke-linecap="butt"/>
<path d="M156.0,1188.9 L156.5,1190.8 L156.9,1192.8 L157.3,1194.8 L157.8,1196.7 L158.2,1198.7 L158.7,1200.6 L159.1,1202.6 L159.6,1204.6 L160.0,1206.5 L160.5,1208.5 L161.0,1210.4 L161.5,1212.4 L161.9,1214.3 L162.4,1216.3 L162.9,1218.2 L163.4,1220.1 L163.9,1222.1 L164.5,1224.0 L165.0,1225.9 L165.5,1227.9 L166.0,1229.8 L166.5,1231.7 L167.1,1233.7 L167.6,1235.6 L168.2,1237.5 L168.7,1239.4 L169.3,1241.4 L169.8,1243.3 L170.4,1245.2 L171.0,1247.1 L171.5,1249.0 L172.1,1250.9 L172.7,1252.8 L173.3,1254.7 L173.9,1256.7 L174.5,1258.6 L175.1,1260.5 L175.7,1262.4 L176.3,1264.3 L176.9,1266.2 L177.5,1268.1 L178.1,1269.9 L178.8,1271.8 L179.4,1273.7 L180.0,1275.6 L180.7,1277.5 L181.3,1279.4 L182.0,1281.3 L182.6,1283.2 L183.3,1285.0 L183.9,1286.9 L184.6,1288.8 L185.3,1290.7 L186.0,1292.5 L186.6,1294.4 L187.3,1296.3 L188.0,1298.2 L188.7,1300.0 L189.4,1301.9 L190.1,1303.8 L190.8,1305.6 L191.5,1307.5 L192.2,1309.3 L192.9,1311.2 L193.6,1313.1 L194.3,1314.9 L195.1,1316.8 L195.8,1318.6 L196.5,1320.5 L197.3,1322.3 L198.0,1324.2 L198.7,1326.0 L199.5,1327.9 L200.2,1329.7 L201.0,1331.6 L201.8,1333.4 L202.5,1335.2 L203.3,1337.1 L204.0,1338.9 L204.8,1340.7 L205.6,1342.6 L206.4,1344.4 L207.2,1346.2 L207.9,1348.1 L208.7,1349.9 L209.5,1351.7 L210.3,1353.6 L211.1,1355.4 L211.9,1357.2 L212.7,1359.0 L213.5,1360.9 L214.3,1362.7 L215.2,1364.5 L216.0,1366.3 L216.8,1368.1 L217.6,1369.9 L218.4,1371.8 L219.3,1373.6 L220.1,1375.4 L220.9,1377.2 L221.8,1379.0 L222.6,1380.8 L223.5,1382.6 L224.3,1384.4 L225.2,1386.2 L226.0,1388.0 L226.9,1389.8 L227.7,1391.6 L228.6,1393.4 L229.4,1395.2 L230.3,1397.0 L231.2,1398.8 L232.1,1400.6 L232.9,1402.4 L233.8,1404.2 L234.7,1406.0 L235.6,1407.8 L236.5,1409.5 L237.4,1411.3 L238.2,1413.1 L239.1,1414.9 L240.0,1416.7 L240.9,1418.5 L241.8,1420.2 L242.8,1422.0 L243.7,1423.8 L244.6,1425.6 L245.5,1427.3 L246.4,1429.1 L247.3,1430.9 L248.3,1432.7 L249.2,1434.4 L250.1,1436.2 L251.0,1438.0 L252.0,1439.7 L252.9,1441.5 L253.9,1443.3 L254.8,1445.0 L255.8,1446.8 L256.7,1448.5 L257.7,1450.3 L258.6,1452.0 L259.6,1453.8 L260.5,1455.5 L261.5,1457.3 L262.5,1459.0 L263.4,1460.8 L264.4,1462.5 L265.4,1464.3 L266.3,1466.0 L267.3,1467.8 L268.3,1469.5 L269.3,1471.3 L270.3,1473.0 L271.3,1474.7 L272.3,1476.5 L273.3,1478.2 L274.3,1479.9 L275.3,1481.7 L276.3,1483.4 L277.3,1485.1 L278.3,1486.8 L279.3,1488.6 L280.3,1490.3 L281.3,1492.0 L282.4,1493.7 L283.4,1495.5 L284.4,1497.2 L285.4,1498.9 L286.5,1500.6 L287.5,1502.3 L288.6,1504.0 L289.6,1505.7 L290.6,1507.4 L291.7,1509.1 L292.7,1510.9 L293.8,1512.6 L294.8,1514.3 L295.9,1516.0 L297.0,1517.7 L298.0,1519.4 L299.1,1521.1 L300.2,1522.7 L301.2,1524.4 L302.3,1526.1 L303.4,1527.8 L304.4,1529.5 L305.5,1531.2 L306.6,1532.9 L307.7,1534.6 L308.8,1536.2 L309.9,1537.9 L311.0,1539.6 L312.1,1541.3 L313.2,1542.9 L314.3,1544.6 L315.4,1546.3 L316.5,1548.0 L317.6,1549.6 L318.7,1551.3 L319.8,1553.0 L321.0,1554.6 L322.1,1556.3 L323.2,1557.9 L324.3,1559.6 L325.5,1561.3 L326.6,1562.9 L327.7,1564.6 L328.9,1566.2 L330.0,1567.9 L331.2,1569.5 L332.3,1571.2 L333.4,1572.8 L334.6,1574.4 L335.8,1576.1 L336.9,1577.7 L338.1,1579.3 L339.3,1581.0 L340.4,1582.6 L341.6,1584.2 L342.8,1585.8 L343.9,1587.5 L345.1,1589.1 L346.3,1590.7 L347.5,1592.3 L348.7,1593.9 L349.9,1595.5 L351.1,1597.1 L352.3,1598.7 L353.5,1600.3 L354.7,1601.9 L355.9,1603.5 L357.1,1605.1 L358.4,1606.7 L359.6,1608.2 L360.8,1609.8 L362.1,1611.4 L363.3,1613.0 L364.5,1614.5 L365.8,1616.1 L367.0,1617.6 L368.3,1619.2 L369.5,1620.7 L370.8,1622.3 L372.0,1623.8 L373.3,1625.4 L374.6,1626.9 L375.9,1628.5 L377.1,1630.0 L378.4,1631.5 L379.7,1633.0 L381.0,1634.5 L382.3,1636.1 L383.6,1637.6 L384.9,1639.1 L386.2,1640.6 L387.5,1642.1 L388.8,1643.6 L390.1,1645.1 L391.5,1646.5 L392.8,1648.0 L394.1,1649.5 L395.5,1651.0 L396.8,1652.4 L398.1,1653.9 L399.5,1655.3 L400.9,1656.8 L402.2,1658.2 L403.6,1659.7 L404.9,1661.1 L406.3,1662.6 L407.7,1664.0 L409.1,1665.4 L410.5,1666.8 L411.9,1668.2 L413.3,1669.6 L414.7,1671.0 L416.1,1672.4 L417.5,1673.8 L418.9,1675.2 L420.3,1676.6 L421.7,1678.0 L423.2,1679.3 L424.6,1680.7 L426.1,1682.1 L427.5,1683.4 L428.9,1684.8 L430.4,1686.1 L431.9,1687.4 L433.3,1688.8 L434.8,1690.1 L436.3,1691.4 L437.8,1692.7 L439.3,1694.0 L440.7,1695.3 L442.2,1696.6 L443.7,1697.9 L445.3,1699.2 L446.8,1700.5 L448.3,1701.8 L449.8,1703.0 L451.3,1704.3 L452.9,1705.5 L454.4,1706.8 L456.0,1708.0 L457.5,1709.3 L459.1,1710.5 L460.6,1711.7 L462.2,1712.9 L463.7,1714.1 L465.3,1715.4 L466.9,1716.6 L468.5,1717.8 L470.1,1718.9 L471.7,1720.1 L473.3,1721.3 L474.9,1722.5 L476.5,1723.7 L478.1,1724.8 L479.7,1726.0 L481.3,1727.1 L482.9,1728.3 L484.5,1729.4 L486.2,1730.6 L487.8,1731.7 L489.4,1732.8 L491.1,1734.0 L492.7,1735.1 L494.4,1736.2 L496.0,1737.3 L497.7,1738.4 L499.4,1739.5 L501.0,1740.6 L502.7,1741.7 L504.4,1742.8 L506.0,1743.9 L507.7,1744.9 L509.4,1746.0 L511.1,1747.1 L512.8,1748.2 L514.5,1749.2 L516.2,1750.3 L517.9,1751.3 L519.6,1752.4 L521.3,1753.4 L523.0,1754.4 L524.7,1755.5 L526.4,1756.5 L528.1,1757.5 L529.8,1758.6 L531.6,1759.6 L533.3,1760.6 L535.0,1761.6 L536.7,1762.6 L538.5,1763.6 L540.2,1764.6 L542.0,1765.6 L543.7,1766.6 L545.4,1767.6 L547.2,1768.6 L548.9,1769.5 L550.7,1770.5 L552.4,1771.5 L554.2,1772.4 L556.0,1773.4 L557.7,1774.4 L559.5,1775.3 L561.3,1776.3 L563.0,1777.2 L564.8,1778.2 L566.6,1779.1 L568.3,1780.1 L570.1,1781.0 L571.9,1781.9 L573.7,1782.9 L575.4,1783.8 L577.2,1784.7 L579.0,1785.6 L580.8,1786.6 L582.6,1787.5 L584.4,1788.4 L586.2,1789.3 L588.0,1790.2 L589.8,1791.1 L591.6,1792.0 L593.3,1792.9 L595.1,1793.8 L596.9,1794.7 L598.7,1795.6 L600.5,1796.5 L602.4,1797.4 L604.2,1798.3 L606.0,1799.1 L607.8,1800.0 L609.6,1800.9 L611.4,1801.8 L613.2,1802.6 L615.0,1803.5 L616.8,1804.4 L618.6,1805.2 L620.4,1806.1 L622.2,1807.0 L624.1,1807.8 L625.9,1808.7 L627.7,1809.5 L629.5,1810.4 L631.3,1811.2 L633.1,1812.1 L635.0,1812.9 L636.8,1813.7 L638.6,1814.6 L640.4,1815.4 L642.2,1816.2 L644.1,1817.1 L645.9,1817.9 L647.7,1818.7 L649.5,1819.5 L651.4,1820.4 L653.2,1821.2 L655.0,1822.0 L656.9,1822.8 L658.7,1823.6 L660.5,1824.4 L662.3,1825.2 L664.2,1826.1 L666.0,1826.9 L667.8,1827.7 L669.7,1828.4 L671.5,1829.2 L673.4,1830.0 L675.2,1830.8 L677.0,1831.6 L678.9,1832.4 L680.7,1833.2 L682.6,1834.0 L684.4,1834.7 L686.2,1835.5 L688.1,1836.3 L689.9,1837.1 L691.8,1837.8 L693.6,1838.6 L695.5,1839.4 L697.3,1840.1 L699.2,1840.9 L701.0,1841.7 L702.9,1842.4 L704.7,1843.2 L706.6,1843.9 L708.4,1844.7 L710.3,1845.4 L712.1,1846.2 L714.0,1846.9 L715.8,1847.6 L717.7,1848.4 L719.5,1849.1 L721.4,1849.8 L723.3,1850.6 L725.1,1851.3 L727.0,1852.0 L728.8,1852.7 L730.7,1853.5 L732.6,1854.2 L734.4,1854.9 L736.3,1855.6 L738.2,1856.3 L740.0,1857.0 L741.9,1857.8 L743.8,1858.5 L745.6,1859.2 L747.5,1859.9 L749.4,1860.6 L751.2,1861.3 L753.1,1862.0 L755.0,1862.6 L756.8,1863.3 L758.7,1864.0 L760.6,1864.7 L762.5,1865.4 L764.3,1866.1 L766.2,1866.8 L768.1,1867.4 L770.0,1868.1 L771.9,1868.8 L773.7,1869.4 L775.6,1870.1 L777.5,1870.8 L779.4,1871.4 L781.3,1872.1 L783.1,1872.8 L785.0,1873.4 L786.9,1874.1 L788.8,1874.7 L790.7,1875.4 L792.6,1876.0 L794.4,1876.7 L796.3,1877.3 L798.2,1878.0 L800.1,1878.6 L802.0,1879.2 L803.9,1879.9 L805.8,1880.5 L807.7,1881.1 L809.6,1881.8 L811.5,1882.4 L813.3,1883.0 L815.2,1883.6 L817.1,1884.2 L819.0,1884.9 L820.9,1885.5 L822.8,1886.1 L824.7,1886.7 L826.6,1887.3 L828.5,1887.9 L830.4,1888.5 L832.3,1889.1 L834.2,1889.7 L836.1,1890.3 L838.0,1890.9 L839.9,1891.5 L841.8,1892.1 L843.7,1892.7 L845.6,1893.3 L847.5,1893.9 L849.4,1894.5 L851.4,1895.0 L853.3,1895.6 L855.2,1896.2 L857.1,1896.8 L859.0,1897.3 L860.9,1897.9 L862.8,1898.5 L864.7,1899.0 L866.6,1899.6 L868.5,1900.2 L870.5,1900.7 L872.4,1901.3 L874.3,1901.8 L876.2,1902.4 L878.1,1902.9 L880.0,1903.5 L881.9,1904.0 L883.9,1904.6 L885.8,1905.1 L887.7,1905.7 L889.6,1906.2 L891.5,1906.7 L893.4,1907.3 L895.4,1907.8 L897.3,1908.3 L899.2,1908.9 L901.1,1909.4 L903.1,1909.9 L905.0,1910.4 L906.9,1911.0 L908.8,1911.5 L910.8,1912.0 L912.7,1912.5 L914.6,1913.0 L916.5,1913.5 L918.5,1914.0 L920.4,1914.5 L922.3,1915.0 L924.2,1915.5 L926.2,1916.0 L928.1,1916.5 L930.0,1917.0 L932.0,1917.5 L933.9,1918.0 L935.8,1918.5 L937.8,1919.0 L939.7,1919.5 L941.6,1920.0 L943.6,1920.4 L945.5,1920.9 L947.4,1921.4 L949.4,1921.9 L951.3,1922.3 L953.2,1922.8 L955.2,1923.3 L957.1,1923.7 L959.1,1924.2 L961.0,1924.7 L962.9,1925.1 L964.9,1925.6 L966.8,1926.0 L968.8,1926.5 L970.7,1927.0 L972.6,1927.4 L974.6,1927.9 L976.5,1928.3 L978.5,1928.7 L980.4,1929.2 L982.4,1929.6 L984.3,1930.1 L986.2,1930.5 L988.2,1930.9 L990.1,1931.4 L992.1,1931.8 L994.0,1932.2 L996.0,1932.7 L997.9,1933.1 L999.9,1933.5 L1001.8,1933.9 L1003.8,1934.3 L1005.7,1934.8 L1007.7,1935.2 L1009.6,1935.6 L1011.6,1936.0 L1013.5,1936.4 L1015.5,1936.8 L1017.4,1937.2 L1019.4,1937.6 L1021.3,1938.0 L1023.3,1938.4 L1025.3,1938.8 L1027.2,1939.2 L1029.2,1939.6 L1031.1,1940.0 L1033.1,1940.4 L1035.0,1940.8 L1037.0,1941.2 L1039.0,1941.5 L1040.9,1941.9 L1042.9,1942.3 L1044.8,1942.7 L1046.8,1943.1 L1048.7,1943.4 L1050.7,1943.8 L1052.7,1944.2 L1054.6,1944.5 L1056.6,1944.9 L1058.6,1945.3 L1060.5,1945.6 L1062.5,1946.0 L1064.4,1946.4 L1066.4,1946.7 L1068.4,1947.1 L1070.3,1947.4 L1072.3,1947.8 L1074.3,1948.1 L1076.2,1948.5 L1078.2,1948.8 L1080.2,1949.2 L1082.1,1949.5 L1084.1,1949.8 L1086.1,1950.2 L1088.0,1950.5 L1090.0,1950.8 L1092.0,1951.2 L1093.9,1951.5 L1095.9,1951.8 L1097.9,1952.2 L1099.8,1952.5 L1101.8,1952.8 L1103.8,1953.1 L1105.8,1953.4 L1107.7,1953.8 L1109.7,1954.1 L1111.7,1954.4 L1113.6,1954.7 L1115.6,1955.0 L1117.6,1955.3 L1119.6,1955.6 L1121.5,1955.9 L1123.5,1956.2 L1125.5,1956.5 L1127.5,1956.8 L1129.4,1957.1 L1131.4,1957.4 L1133.4,1957.7 L1135.4,1958.0 L1137.3,1958.3 L1139.3,1958.6 L1141.3,1958.9 L1143.3,1959.2 L1145.3,1959.4 L1147.2,1959.7 L1149.2,1960.0 L1151.2,1960.3 L1153.2,1960.5 L1155.1,1960.8 L1157.1,1961.1 L1159.1,1961.4 L1161.1,1961.6 L1163.1,1961.9 L1165.0,1962.2 L1167.0,1962.4 L1169.0,1962.7 L1171.0,1962.9 L1173.0,1963.2 L1175.0,1963.4 L1176.9,1963.7 L1178.9,1964.0 L1180.9,1964.2 L1182.9,1964.4 L1184.9,1964.7 L1186.9,1964.9 L1188.8,1965.2 L1190.8,1965.4 L1192.8,1965.7 L1194.8,1965.9 L1196.8,1966.1 L1198.8,1966.4 L1200.8,1966.6 L1202.7,1966.8 L1204.7,1967.1 L1206.7,1967.3 L1208.7,1967.5 L1210.7,1967.7 L1212.7,1968.0 L1214.7,1968.2 L1216.6,1968.4 L1218.6,1968.6 L1220.6,1968.8 L1222.6,1969.0 L1224.6,1969.2 L1226.6,1969.5 L1228.6,1969.7 L1230.6,1969.9 L1232.6,1970.1 L1234.6,1970.3 L1236.5,1970.5 L1238.5,1970.7 L1240.5,1970.9 L1242.5,1971.1 L1244.5,1971.3 L1246.5,1971.4 L1248.5,1971.6 L1250.5,1971.8 L1252.5,1972.0 L1254.5,1972.2 L1256.5,1972.4 L1258.4,1972.6 L1260.4,1972.7 L1262.4,1972.9 L1264.4,1973.1 L1266.4,1973.3 L1268.4,1973.4 L1270.4,1973.6 L1272.4,1973.8 L1274.4,1974.0 L1276.4,1974.1 L1278.4,1974.3 L1280.4,1974.4 L1282.4,1974.6 L1284.4,1974.8 L1286.4,1974.9 L1288.4,1975.1 L1290.4,1975.2 L1292.3,1975.4 L1294.3,1975.5 L1296.3,1975.7 L1298.3,1975.8 L1300.3,1976.0 L1302.3,1976.1 L1304.3,1976.3 L1306.3,1976.4 L1308.3,1976.5 L1310.3,1976.7 L1312.3,1976.8 L1314.3,1977.0 L1316.3,1977.1 L1318.3,1977.2 L1320.3,1977.3 L1322.3,1977.5 L1324.3,1977.6 L1326.3,1977.7 L1328.3,1977.9 L1330.3,1978.0 L1332.3,1978.1 L1334.3,1978.2 L1336.3,1978.3 L1338.3,1978.4 L1340.3,1978.6 L1342.3,1978.7 L1344.3,1978.8 L1346.3,1978.9 L1348.3,1979.0 L1350.3,1979.1 L1352.3,1979.2 L1354.3,1979.3 L1356.3,1979.4 L1358.3,1979.5 L1360.3,1979.6" stroke="#10f010" stroke-width="8" fill="none" stroke-linejoin="round" stroke-linecap="round"/>
<path d="M155.4,1189.0 L156.4,1190.7 L157.4,1192.5 L158.4,1194.2 L159.4,1195.9 L160.4,1197.7 L161.4,1199.4 L162.4,1201.1 L163.4,1202.8 L164.4,1204.5 L165.4,1206.2 L166.4,1207.9 L167.5,1209.6 L168.5,1211.3 L169.5,1213.0 L170.6,1214.7 L171.6,1216.4 L172.7,1218.1 L173.8,1219.8 L174.8,1221.5 L175.9,1223.2 L177.0,1224.8 L178.1,1226.5 L179.1,1228.2 L180.2,1229.8 L181.3,1231.5 L182.4,1233.1 L183.5,1234.8 L184.7,1236.4 L185.8,1238.1 L186.9,1239.7 L188.0,1241.4 L189.1,1243.0 L190.3,1244.7 L191.4,1246.3 L192.6,1247.9 L193.7,1249.5 L194.9,1251.2 L196.0,1252.8 L197.2,1254.4 L198.4,1256.0 L199.5,1257.6 L200.7,1259.2 L201.9,1260.8 L203.1,1262.4 L204.3,1264.0 L205.4,1265.6 L206.6,1267.2 L207.8,1268.8 L209.1,1270.4 L210.3,1272.0 L211.5,1273.6 L212.7,1275.2 L213.9,1276.7 L215.1,1278.3 L216.4,1279.9 L217.6,1281.4 L218.8,1283.0 L220.1,1284.6 L221.3,1286.1 L222.6,1287.7 L223.8,1289.2 L225.1,1290.8 L226.3,1292.3 L227.6,1293.9 L228.9,1295.4 L230.1,1297.0 L231.4,1298.5 L232.7,1300.1 L234.0,1301.6 L235.3,1303.1 L236.5,1304.6 L237.8,1306.2 L239.1,1307.7 L240.4,1309.2 L241.7,1310.7 L243.0,1312.2 L244.3,1313.8 L245.7,1315.3 L247.0,1316.8 L248.3,1318.3 L249.6,1319.8 L250.9,1321.3 L252.3,1322.8 L253.6,1324.3 L254.9,1325.8 L256.2,1327.3 L257.6,1328.7 L258.9,1330.2 L260.3,1331.7 L261.6,1333.2 L263.0,1334.7 L264.3,1336.1 L265.7,1337.6 L267.0,1339.1 L268.4,1340.6 L269.8,1342.0 L271.1,1343.5 L272.5,1344.9 L273.9,1346.4 L275.2,1347.9 L276.6,1349.3 L278.0,1350.8 L279.4,1352.2 L280.8,1353.7 L282.1,1355.1 L283.5,1356.5 L284.9,1358.0 L286.3,1359.4 L287.7,1360.9 L289.1,1362.3 L290.5,1363.7 L291.9,1365.1 L293.4,1366.6 L294.8,1368.0 L296.2,1369.4 L297.6,1370.8 L299.0,1372.2 L300.4,1373.6 L301.9,1375.0 L303.3,1376.4 L304.7,1377.8 L306.2,1379.2 L307.6,1380.6 L309.0,1382.0 L310.5,1383.4 L311.9,1384.8 L313.4,1386.2 L314.8,1387.6 L316.3,1388.9 L317.7,1390.3 L319.2,1391.7 L320.7,1393.1 L322.1,1394.4 L323.6,1395.8 L325.1,1397.1 L326.5,1398.5 L328.0,1399.9 L329.5,1401.2 L331.0,1402.6 L332.4,1403.9 L333.9,1405.2 L335.4,1406.6 L336.9,1407.9 L338.4,1409.2 L339.9,1410.6 L341.4,1411.9 L342.9,1413.2 L344.4,1414.6 L345.9,1415.9 L347.4,1417.2 L348.9,1418.5 L350.4,1419.8 L351.9,1421.1 L353.5,1422.4 L355.0,1423.7 L356.5,1425.0 L358.0,1426.3 L359.5,1427.6 L361.1,1428.9 L362.6,1430.2 L364.1,1431.4 L365.7,1432.7 L367.2,1434.0 L368.8,1435.3 L370.3,1436.5 L371.9,1437.8 L373.4,1439.0 L375.0,1440.3 L376.5,1441.6 L378.1,1442.8 L379.6,1444.1 L381.2,1445.3 L382.8,1446.5 L384.3,1447.8 L385.9,1449.0 L387.5,1450.2 L389.0,1451.5 L390.6,1452.7 L392.2,1453.9 L393.8,1455.1 L395.4,1456.3 L397.0,1457.5 L398.5,1458.8 L400.1,1460.0 L401.7,1461.2 L403.3,1462.4 L404.9,1463.5 L406.5,1464.7 L408.1,1465.9 L409.7,1467.1 L411.3,1468.3 L412.9,1469.5 L414.6,1470.6 L416.2,1471.8 L417.8,1473.0 L419.4,1474.1 L421.0,1475.3 L422.7,1476.4 L424.3,1477.6 L425.9,1478.7 L427.5,1479.9 L429.2,1481.0 L430.8,1482.2 L432.4,1483.3 L434.1,1484.4 L435.7,1485.6 L437.4,1486.7 L439.0,1487.8 L440.7,1488.9 L442.3,1490.0 L444.0,1491.2 L445.6,1492.3 L447.3,1493.4 L448.9,1494.5 L450.6,1495.6 L452.3,1496.7 L453.9,1497.7 L455.6,1498.8 L457.3,1499.9 L458.9,1501.0 L460.6,1502.1 L462.3,1503.2 L464.0,1504.2 L465.7,1505.3 L467.3,1506.4 L469.0,1507.4 L470.7,1508.5 L472.4,1509.5 L474.1,1510.6 L475.8,1511.6 L477.5,1512.7 L479.2,1513.7 L480.9,1514.7 L482.6,1515.8 L484.3,1516.8 L486.0,1517.8 L487.7,1518.9 L489.4,1519.9 L491.1,1520.9 L492.9,1521.9 L494.6,1522.9 L496.3,1523.9 L498.0,1524.9 L499.7,1525.9 L501.5,1526.9 L503.2,1527.9 L504.9,1528.9 L506.6,1529.9 L508.4,1530.9 L510.1,1531.8 L511.9,1532.8 L513.6,1533.8 L515.3,1534.7 L517.1,1535.7 L518.8,1536.7 L520.6,1537.6 L522.3,1538.6 L524.1,1539.5 L525.8,1540.5 L527.6,1541.4 L529.3,1542.4 L531.1,1543.3 L532.9,1544.2 L534.6,1545.2 L536.4,1546.1 L538.1,1547.0 L539.9,1547.9 L541.7,1548.9 L543.5,1549.8 L545.2,1550.7 L547.0,1551.6 L548.8,1552.5 L550.6,1553.4 L552.3,1554.3 L554.1,1555.2 L555.9,1556.1 L557.7,1557.0 L559.5,1557.8 L561.3,1558.7 L563.1,1559.6 L564.9,1560.5 L566.7,1561.4 L568.4,1562.2 L570.2,1563.1 L572.0,1564.0 L573.8,1564.8 L575.6,1565.7 L577.4,1566.5 L579.2,1567.4 L581.1,1568.3 L582.9,1569.1 L584.7,1570.0 L586.5,1570.8 L588.3,1571.6 L590.1,1572.5 L591.9,1573.3 L593.7,1574.2 L595.5,1575.0 L597.4,1575.8 L599.2,1576.7 L601.0,1577.5 L602.8,1578.3 L604.6,1579.1 L606.5,1579.9 L608.3,1580.8 L610.1,1581.6 L611.9,1582.4 L613.8,1583.2 L615.6,1584.0 L617.4,1584.8 L619.3,1585.6 L621.1,1586.4 L622.9,1587.2 L624.7,1588.0 L626.6,1588.8 L628.4,1589.6 L630.3,1590.4 L632.1,1591.2 L633.9,1592.0 L635.8,1592.8 L637.6,1593.6 L639.4,1594.4 L641.3,1595.2 L643.1,1596.0 L645.0,1596.7 L646.8,1597.5 L648.7,1598.3 L650.5,1599.1 L652.3,1599.9 L654.2,1600.6 L656.0,1601.4 L657.9,1602.2 L659.7,1603.0 L661.6,1603.7 L663.4,1604.5 L665.3,1605.3 L667.1,1606.0 L669.0,1606.8 L670.8,1607.6 L672.7,1608.3 L674.5,1609.1 L676.4,1609.9 L678.2,1610.6 L680.1,1611.4 L681.9,1612.2 L683.8,1612.9 L685.6,1613.7 L687.5,1614.4 L689.3,1615.2 L691.2,1615.9 L693.0,1616.7 L694.9,1617.5 L696.7,1618.2 L698.6,1619.0 L700.5,1619.7 L702.3,1620.5 L704.2,1621.2 L706.0,1622.0 L707.9,1622.7 L709.7,1623.5 L711.6,1624.2 L713.4,1625.0 L715.3,1625.7 L717.1,1626.5 L719.0,1627.2 L720.9,1628.0 L722.7,1628.7 L724.6,1629.5 L726.4,1630.2 L728.3,1631.0 L730.1,1631.7 L732.0,1632.4 L733.9,1633.2 L735.7,1633.9 L737.6,1634.7 L739.4,1635.4 L741.3,1636.1 L743.2,1636.9 L745.0,1637.6 L746.9,1638.4 L748.7,1639.1 L750.6,1639.8 L752.5,1640.6 L754.3,1641.3 L756.2,1642.0 L758.0,1642.8 L759.9,1643.5 L761.8,1644.2 L763.6,1644.9 L765.5,1645.7 L767.4,1646.4 L769.2,1647.1 L771.1,1647.9 L772.9,1648.6 L774.8,1649.3 L776.7,1650.0 L778.5,1650.7 L780.4,1651.5 L782.3,1652.2 L784.1,1652.9 L786.0,1653.6 L787.9,1654.3 L789.7,1655.1 L791.6,1655.8 L793.5,1656.5 L795.3,1657.2 L797.2,1657.9 L799.1,1658.6 L800.9,1659.3 L802.8,1660.0 L804.7,1660.7 L806.5,1661.4 L808.4,1662.2 L810.3,1662.9 L812.1,1663.6 L814.0,1664.3 L815.9,1665.0 L817.8,1665.7 L819.6,1666.4 L821.5,1667.1 L823.4,1667.8 L825.2,1668.5 L827.1,1669.2 L829.0,1669.8 L830.9,1670.5 L832.7,1671.2 L834.6,1671.9 L836.5,1672.6 L838.4,1673.3 L840.2,1674.0 L842.1,1674.7 L844.0,1675.4 L845.9,1676.0 L847.7,1676.7 L849.6,1677.4 L851.5,1678.1 L853.4,1678.8 L855.3,1679.4 L857.1,1680.1 L859.0,1680.8 L860.9,1681.5 L862.8,1682.1 L864.6,1682.8 L866.5,1683.5 L868.4,1684.2 L870.3,1684.8 L872.2,1685.5 L874.1,1686.2 L875.9,1686.8 L877.8,1687.5 L879.7,1688.2 L881.6,1688.8 L883.5,1689.5 L885.4,1690.1 L887.2,1690.8 L889.1,1691.4 L891.0,1692.1 L892.9,1692.8 L894.8,1693.4 L896.7,1694.1 L898.6,1694.7 L900.4,1695.3 L902.3,1696.0 L904.2,1696.6 L906.1,1697.3 L908.0,1697.9 L909.9,1698.6 L911.8,1699.2 L913.7,1699.8 L915.6,1700.5 L917.5,1701.1 L919.3,1701.7 L921.2,1702.4 L923.1,1703.0 L925.0,1703.6 L926.9,1704.3 L928.8,1704.9 L930.7,1705.5 L932.6,1706.1 L934.5,1706.8 L936.4,1707.4 L938.3,1708.0 L940.2,1708.6 L942.1,1709.2 L944.0,1709.9 L945.9,1710.5 L947.8,1711.1 L949.7,1711.7 L951.6,1712.3 L953.5,1712.9 L955.4,1713.5 L957.3,1714.1 L959.2,1714.7 L961.1,1715.3 L963.0,1715.9 L964.9,1716.5 L966.8,1717.1 L968.7,1717.7 L970.6,1718.3 L972.5,1718.9 L974.4,1719.5 L976.3,1720.1 L978.2,1720.7 L980.1,1721.2 L982.0,1721.8 L983.9,1722.4 L985.8,1723.0 L987.8,1723.6 L989.7,1724.1 L991.6,1724.7 L993.5,1725.3 L995.4,1725.9 L997.3,1726.4 L999.2,1727.0 L1001.1,1727.6 L1003.0,1728.1 L1005.0,1728.7 L1006.9,1729.3 L1008.8,1729.8 L1010.7,1730.4 L1012.6,1730.9 L1014.5,1731.5 L1016.5,1732.0 L1018.4,1732.6 L1020.3,1733.2 L1022.2,1733.7 L1024.1,1734.2 L1026.0,1734.8 L1028.0,1735.3 L1029.9,1735.9 L1031.8,1736.4 L1033.7,1737.0 L1035.7,1737.5 L1037.6,1738.0 L1039.5,1738.6 L1041.4,1739.1 L1043.3,1739.6 L1045.3,1740.1 L1047.2,1740.7 L1049.1,1741.2 L1051.0,1741.7 L1053.0,1742.2 L1054.9,1742.8 L1056.8,1743.3 L1058.7,1743.8 L1060.7,1744.3 L1062.6,1744.8 L1064.5,1745.4 L1066.5,1745.9 L1068.4,1746.4 L1070.3,1746.9 L1072.2,1747.4 L1074.2,1747.9 L1076.1,1748.4 L1078.0,1748.9 L1080.0,1749.4 L1081.9,1750.0 L1083.8,1750.5 L1085.8,1751.0 L1087.7,1751.5 L1089.6,1752.0 L1091.6,1752.5 L1093.5,1753.0 L1095.4,1753.5 L1097.4,1754.0 L1099.3,1754.5 L1101.2,1755.0 L1103.2,1755.5 L1105.1,1756.0 L1107.0,1756.5 L1109.0,1756.9 L1110.9,1757.4 L1112.8,1757.9 L1114.8,1758.4 L1116.7,1758.9 L1118.6,1759.4 L1120.6,1759.9 L1122.5,1760.4 L1124.4,1760.9 L1126.4,1761.4 L1128.3,1761.9 L1130.2,1762.4 L1132.2,1762.9 L1134.1,1763.3 L1136.1,1763.8 L1138.0,1764.3 L1139.9,1764.8 L1141.9,1765.3 L1143.8,1765.8 L1145.7,1766.3 L1147.7,1766.8 L1149.6,1767.2 L1151.5,1767.7 L1153.5,1768.2 L1155.4,1768.7 L1157.3,1769.2 L1159.3,1769.7 L1161.2,1770.2 L1163.2,1770.7 L1165.1,1771.2 L1167.0,1771.6 L1169.0,1772.1 L1170.9,1772.6 L1172.8,1773.1 L1174.8,1773.6 L1176.7,1774.1 L1178.6,1774.6 L1180.6,1775.1 L1182.5,1775.6 L1184.4,1776.1 L1186.4,1776.5 L1188.3,1777.0 L1190.2,1777.5 L1192.2,1778.0 L1194.1,1778.5 L1196.0,1779.0 L1198.0,1779.5 L1199.9,1780.0 L1201.8,1780.5 L1203.8,1781.0 L1205.7,1781.5 L1207.6,1782.0 L1209.6,1782.5 L1211.5,1783.0 L1213.4,1783.5 L1215.4,1784.0 L1217.3,1784.5 L1219.2,1785.0 L1221.2,1785.5 L1223.1,1786.0 L1225.0,1786.5 L1227.0,1787.0 L1228.9,1787.5 L1230.8,1788.0 L1232.7,1788.5 L1234.7,1789.0 L1236.6,1789.5 L1238.5,1790.0 L1240.5,1790.5 L1242.4,1791.0 L1244.3,1791.5 L1246.3,1792.0 L1248.2,1792.5 L1250.1,1793.0 L1252.0,1793.5 L1254.0,1794.0 L1255.9,1794.5 L1257.8,1795.0 L1259.8,1795.5 L1261.7,1796.0 L1263.6,1796.6 L1265.5,1797.1 L1267.5,1797.6 L1269.4,1798.1 L1271.3,1798.6 L1273.3,1799.1 L1275.2,1799.6 L1277.1,1800.1 L1279.0,1800.6 L1281.0,1801.2 L1282.9,1801.7 L1284.8,1802.2 L1286.8,1802.7 L1288.7,1803.2 L1290.6,1803.7 L1292.5,1804.2 L1294.5,1804.7 L1296.4,1805.3 L1298.3,1805.8 L1300.2,1806.3 L1302.2,1806.8 L1304.1,1807.3 L1306.0,1807.8 L1308.0,1808.4 L1309.9,1808.9 L1311.8,1809.4 L1313.7,1809.9 L1315.7,1810.4 L1317.6,1811.0 L1319.5,1811.5 L1321.5,1812.0 L1323.4,1812.5 L1325.3,1813.0 L1327.2,1813.6 L1329.2,1814.1 L1331.1,1814.6 L1333.0,1815.1 L1334.9,1815.6 L1336.9,1816.2 L1338.8,1816.7 L1340.7,1817.2 L1342.7,1817.7 L1344.6,1818.3 L1346.5,1818.8 L1348.4,1819.3 L1350.4,1819.8 L1352.3,1820.4 L1354.2,1820.9 L1356.1,1821.4 L1358.1,1821.9 L1360.0,1822.5" stroke="#780ae6" stroke-width="8" fill="none" stroke-linejoin="round" stroke-linecap="round"/>
<path d="M156.6,1187.5 L158.2,1188.8 L159.8,1190.0 L161.4,1191.2 L163.1,1192.3 L164.7,1193.5 L166.3,1194.7 L168.0,1195.9 L169.6,1197.0 L171.2,1198.1 L172.9,1199.3 L174.5,1200.4 L176.2,1201.5 L177.9,1202.7 L179.5,1203.8 L181.2,1204.9 L182.9,1206.0 L184.5,1207.1 L186.2,1208.1 L187.9,1209.2 L189.6,1210.3 L191.3,1211.3 L193.0,1212.4 L194.7,1213.4 L196.4,1214.5 L198.1,1215.5 L199.8,1216.6 L201.5,1217.6 L203.2,1218.6 L204.9,1219.6 L206.6,1220.6 L208.4,1221.6 L210.1,1222.6 L211.8,1223.6 L213.6,1224.6 L215.3,1225.6 L217.0,1226.6 L218.8,1227.6 L220.5,1228.6 L222.2,1229.5 L224.0,1230.5 L225.7,1231.5 L227.5,1232.4 L229.2,1233.4 L231.0,1234.3 L232.7,1235.3 L234.5,1236.2 L236.3,1237.2 L238.0,1238.1 L239.8,1239.0 L241.5,1240.0 L243.3,1240.9 L245.1,1241.8 L246.8,1242.8 L248.6,1243.7 L250.4,1244.6 L252.2,1245.5 L253.9,1246.5 L255.7,1247.4 L257.5,1248.3 L259.3,1249.2 L261.0,1250.1 L262.8,1251.0 L264.6,1251.9 L266.4,1252.9 L268.1,1253.8 L269.9,1254.7 L271.7,1255.6 L273.5,1256.5 L275.3,1257.4 L277.0,1258.3 L278.8,1259.2 L280.6,1260.1 L282.4,1261.0 L284.2,1261.9 L286.0,1262.8 L287.7,1263.8 L289.5,1264.7 L291.3,1265.6 L293.1,1266.5 L294.9,1267.4 L296.6,1268.3 L298.4,1269.2 L300.2,1270.1 L302.0,1271.1 L303.7,1272.0 L305.5,1272.9 L307.3,1273.8 L309.1,1274.7 L310.8,1275.7 L312.6,1276.6 L314.4,1277.5 L316.2,1278.5 L317.9,1279.4 L319.7,1280.3 L321.5,1281.2 L323.2,1282.2 L325.0,1283.1 L326.8,1284.0 L328.6,1285.0 L330.3,1285.9 L332.1,1286.8 L333.9,1287.8 L335.6,1288.7 L337.4,1289.7 L339.2,1290.6 L340.9,1291.5 L342.7,1292.5 L344.5,1293.4 L346.2,1294.3 L348.0,1295.3 L349.8,1296.2 L351.5,1297.2 L353.3,1298.1 L355.1,1299.0 L356.8,1300.0 L358.6,1300.9 L360.4,1301.9 L362.1,1302.8 L363.9,1303.7 L365.7,1304.7 L367.4,1305.6 L369.2,1306.6 L371.0,1307.5 L372.7,1308.5 L374.5,1309.4 L376.3,1310.3 L378.0,1311.3 L379.8,1312.2 L381.6,1313.1 L383.3,1314.1 L385.1,1315.0 L386.9,1316.0 L388.6,1316.9 L390.4,1317.8 L392.2,1318.8 L393.9,1319.7 L395.7,1320.6 L397.5,1321.6 L399.2,1322.5 L401.0,1323.4 L402.8,1324.4 L404.6,1325.3 L406.3,1326.2 L408.1,1327.1 L409.9,1328.1 L411.6,1329.0 L413.4,1329.9 L415.2,1330.8 L417.0,1331.8 L418.7,1332.7 L420.5,1333.6 L422.3,1334.5 L424.1,1335.4 L425.8,1336.3 L427.6,1337.3 L429.4,1338.2 L431.2,1339.1 L433.0,1340.0 L434.7,1340.9 L436.5,1341.8 L438.3,1342.7 L440.1,1343.6 L441.9,1344.5 L443.6,1345.4 L445.4,1346.3 L447.2,1347.2 L449.0,1348.1 L450.8,1349.0 L452.6,1349.9 L454.4,1350.8 L456.2,1351.7 L457.9,1352.5 L459.7,1353.4 L461.5,1354.3 L463.3,1355.2 L465.1,1356.1 L466.9,1356.9 L468.7,1357.8 L470.5,1358.7 L472.3,1359.6 L474.1,1360.4 L475.9,1361.3 L477.7,1362.2 L479.5,1363.1 L481.3,1363.9 L483.1,1364.8 L484.9,1365.6 L486.7,1366.5 L488.5,1367.4 L490.3,1368.2 L492.1,1369.1 L493.9,1369.9 L495.7,1370.8 L497.5,1371.7 L499.3,1372.5 L501.1,1373.4 L502.9,1374.2 L504.7,1375.1 L506.5,1375.9 L508.3,1376.7 L510.1,1377.6 L511.9,1378.4 L513.7,1379.3 L515.5,1380.1 L517.4,1381.0 L519.2,1381.8 L521.0,1382.6 L522.8,1383.5 L524.6,1384.3 L526.4,1385.1 L528.2,1386.0 L530.0,1386.8 L531.9,1387.6 L533.7,1388.5 L535.5,1389.3 L537.3,1390.1 L539.1,1390.9 L540.9,1391.8 L542.8,1392.6 L544.6,1393.4 L546.4,1394.2 L548.2,1395.0 L550.0,1395.9 L551.9,1396.7 L553.7,1397.5 L555.5,1398.3 L557.3,1399.1 L559.2,1399.9 L561.0,1400.7 L562.8,1401.5 L564.6,1402.4 L566.5,1403.2 L568.3,1404.0 L570.1,1404.8 L572.0,1405.6 L573.8,1406.4 L575.6,1407.2 L577.4,1408.0 L579.3,1408.8 L581.1,1409.6 L582.9,1410.4 L584.8,1411.2 L586.6,1412.0 L588.4,1412.8 L590.3,1413.6 L592.1,1414.4 L593.9,1415.2 L595.8,1415.9 L597.6,1416.7 L599.4,1417.5 L601.3,1418.3 L603.1,1419.1 L605.0,1419.9 L606.8,1420.7 L608.6,1421.5 L610.5,1422.2 L612.3,1423.0 L614.2,1423.8 L616.0,1424.6 L617.8,1425.4 L619.7,1426.2 L621.5,1426.9 L623.4,1427.7 L625.2,1428.5 L627.1,1429.3 L628.9,1430.0 L630.8,1430.8 L632.6,1431.6 L634.5,1432.3 L636.3,1433.1 L638.2,1433.9 L640.0,1434.6 L641.9,1435.4 L643.7,1436.2 L645.6,1436.9 L647.4,1437.7 L649.3,1438.5 L651.1,1439.2 L653.0,1440.0 L654.8,1440.7 L656.7,1441.5 L658.5,1442.2 L660.4,1443.0 L662.2,1443.7 L664.1,1444.5 L666.0,1445.2 L667.8,1446.0 L669.7,1446.7 L671.5,1447.5 L673.4,1448.2 L675.2,1449.0 L677.1,1449.7 L679.0,1450.4 L680.8,1451.2 L682.7,1451.9 L684.6,1452.6 L686.4,1453.4 L688.3,1454.1 L690.1,1454.8 L692.0,1455.6 L693.9,1456.3 L695.7,1457.0 L697.6,1457.7 L699.5,1458.5 L701.3,1459.2 L703.2,1459.9 L705.1,1460.6 L706.9,1461.3 L708.8,1462.1 L710.7,1462.8 L712.6,1463.5 L714.4,1464.2 L716.3,1464.9 L718.2,1465.6 L720.0,1466.3 L721.9,1467.0 L723.8,1467.7 L725.7,1468.4 L727.5,1469.1 L729.4,1469.8 L731.3,1470.5 L733.2,1471.2 L735.0,1471.9 L736.9,1472.6 L738.8,1473.3 L740.7,1474.0 L742.6,1474.7 L744.4,1475.4 L746.3,1476.0 L748.2,1476.7 L750.1,1477.4 L752.0,1478.1 L753.8,1478.7 L755.7,1479.4 L757.6,1480.1 L759.5,1480.8 L761.4,1481.4 L763.3,1482.1 L765.1,1482.8 L767.0,1483.4 L768.9,1484.1 L770.8,1484.8 L772.7,1485.4 L774.6,1486.1 L776.5,1486.7 L778.4,1487.4 L780.2,1488.0 L782.1,1488.7 L784.0,1489.3 L785.9,1490.0 L787.8,1490.6 L789.7,1491.3 L791.6,1491.9 L793.5,1492.6 L795.4,1493.2 L797.3,1493.8 L799.2,1494.5 L801.1,1495.1 L803.0,1495.7 L804.9,1496.4 L806.8,1497.0 L808.6,1497.6 L810.5,1498.3 L812.4,1498.9 L814.3,1499.5 L816.2,1500.1 L818.1,1500.8 L820.0,1501.4 L821.9,1502.0 L823.8,1502.6 L825.7,1503.2 L827.6,1503.8 L829.5,1504.5 L831.4,1505.1 L833.4,1505.7 L835.3,1506.3 L837.2,1506.9 L839.1,1507.5 L841.0,1508.1 L842.9,1508.7 L844.8,1509.3 L846.7,1509.9 L848.6,1510.5 L850.5,1511.1 L852.4,1511.7 L854.3,1512.3 L856.2,1512.9 L858.1,1513.5 L860.0,1514.1 L861.9,1514.6 L863.9,1515.2 L865.8,1515.8 L867.7,1516.4 L869.6,1517.0 L871.5,1517.6 L873.4,1518.1 L875.3,1518.7 L877.2,1519.3 L879.1,1519.9 L881.1,1520.4 L883.0,1521.0 L884.9,1521.6 L886.8,1522.2 L888.7,1522.7 L890.6,1523.3 L892.6,1523.9 L894.5,1524.4 L896.4,1525.0 L898.3,1525.6 L900.2,1526.1 L902.1,1526.7 L904.1,1527.2 L906.0,1527.8 L907.9,1528.3 L909.8,1528.9 L911.7,1529.4 L913.7,1530.0 L915.6,1530.6 L917.5,1531.1 L919.4,1531.6 L921.3,1532.2 L923.3,1532.7 L925.2,1533.3 L927.1,1533.8 L929.0,1534.4 L931.0,1534.9 L932.9,1535.4 L934.8,1536.0 L936.7,1536.5 L938.7,1537.1 L940.6,1537.6 L942.5,1538.1 L944.4,1538.7 L946.4,1539.2 L948.3,1539.7 L950.2,1540.2 L952.1,1540.8 L954.1,1541.3 L956.0,1541.8 L957.9,1542.3 L959.8,1542.9 L961.8,1543.4 L963.7,1543.9 L965.6,1544.4 L967.6,1544.9 L969.5,1545.5 L971.4,1546.0 L973.4,1546.5 L975.3,1547.0 L977.2,1547.5 L979.2,1548.0 L981.1,1548.5 L983.0,1549.0 L985.0,1549.5 L986.9,1550.0 L988.8,1550.5 L990.8,1551.1 L992.7,1551.6 L994.6,1552.1 L996.6,1552.6 L998.5,1553.1 L1000.4,1553.6 L1002.4,1554.1 L1004.3,1554.5 L1006.2,1555.0 L1008.2,1555.5 L1010.1,1556.0 L1012.0,1556.5 L1014.0,1557.0 L1015.9,1557.5 L1017.9,1558.0 L1019.8,1558.5 L1021.7,1559.0 L1023.7,1559.5 L1025.6,1559.9 L1027.6,1560.4 L1029.5,1560.9 L1031.4,1561.4 L1033.4,1561.9 L1035.3,1562.3 L1037.3,1562.8 L1039.2,1563.3 L1041.1,1563.8 L1043.1,1564.3 L1045.0,1564.7 L1047.0,1565.2 L1048.9,1565.7 L1050.9,1566.1 L1052.8,1566.6 L1054.7,1567.1 L1056.7,1567.6 L1058.6,1568.0 L1060.6,1568.5 L1062.5,1569.0 L1064.5,1569.4 L1066.4,1569.9 L1068.4,1570.3 L1070.3,1570.8 L1072.2,1571.3 L1074.2,1571.7 L1076.1,1572.2 L1078.1,1572.7 L1080.0,1573.1 L1082.0,1573.6 L1083.9,1574.0 L1085.9,1574.5 L1087.8,1574.9 L1089.8,1575.4 L1091.7,1575.8 L1093.7,1576.3 L1095.6,1576.7 L1097.6,1577.2 L1099.5,1577.6 L1101.5,1578.1 L1103.4,1578.5 L1105.3,1579.0 L1107.3,1579.4 L1109.2,1579.9 L1111.2,1580.3 L1113.1,1580.8 L1115.1,1581.2 L1117.0,1581.6 L1119.0,1582.1 L1121.0,1582.5 L1122.9,1583.0 L1124.9,1583.4 L1126.8,1583.8 L1128.8,1584.3 L1130.7,1584.7 L1132.7,1585.2 L1134.6,1585.6 L1136.6,1586.0 L1138.5,1586.5 L1140.5,1586.9 L1142.4,1587.3 L1144.4,1587.8 L1146.3,1588.2 L1148.3,1588.6 L1150.2,1589.0 L1152.2,1589.5 L1154.1,1589.9 L1156.1,1590.3 L1158.1,1590.8 L1160.0,1591.2 L1162.0,1591.6 L1163.9,1592.0 L1165.9,1592.5 L1167.8,1592.9 L1169.8,1593.3 L1171.7,1593.7 L1173.7,1594.1 L1175.6,1594.6 L1177.6,1595.0 L1179.6,1595.4 L1181.5,1595.8 L1183.5,1596.2 L1185.4,1596.7 L1187.4,1597.1 L1189.3,1597.5 L1191.3,1597.9 L1193.3,1598.3 L1195.2,1598.7 L1197.2,1599.1 L1199.1,1599.6 L1201.1,1600.0 L1203.0,1600.4 L1205.0,1600.8 L1207.0,1601.2 L1208.9,1601.6 L1210.9,1602.0 L1212.8,1602.4 L1214.8,1602.8 L1216.7,1603.2 L1218.7,1603.7 L1220.7,1604.1 L1222.6,1604.5 L1224.6,1604.9 L1226.5,1605.3 L1228.5,1605.7 L1230.5,1606.1 L1232.4,1606.5 L1234.4,1606.9 L1236.3,1607.3 L1238.3,1607.7 L1240.3,1608.1 L1242.2,1608.5 L1244.2,1608.9 L1246.1,1609.3 L1248.1,1609.7 L1250.1,1610.1 L1252.0,1610.5 L1254.0,1610.9 L1255.9,1611.3 L1257.9,1611.7 L1259.9,1612.1 L1261.8,1612.5 L1263.8,1612.9 L1265.7,1613.3 L1267.7,1613.7 L1269.7,1614.1 L1271.6,1614.5 L1273.6,1614.8 L1275.5,1615.2 L1277.5,1615.6 L1279.5,1616.0 L1281.4,1616.4 L1283.4,1616.8 L1285.3,1617.2 L1287.3,1617.6 L1289.3,1618.0 L1291.2,1618.4 L1293.2,1618.8 L1295.2,1619.1 L1297.1,1619.5 L1299.1,1619.9 L1301.0,1620.3 L1303.0,1620.7 L1305.0,1621.1 L1306.9,1621.5 L1308.9,1621.9 L1310.8,1622.2 L1312.8,1622.6 L1314.8,1623.0 L1316.7,1623.4 L1318.7,1623.8 L1320.7,1624.2 L1322.6,1624.6 L1324.6,1624.9 L1326.5,1625.3 L1328.5,1625.7 L1330.5,1626.1 L1332.4,1626.5 L1334.4,1626.9 L1336.3,1627.2 L1338.3,1627.6 L1340.3,1628.0 L1342.2,1628.4 L1344.2,1628.8 L1346.2,1629.1 L1348.1,1629.5 L1350.1,1629.9 L1352.0,1630.3 L1354.0,1630.7 L1356.0,1631.0 L1357.9,1631.4 L1359.9,1631.8" stroke="#800000" stroke-width="8" fill="none" stroke-linejoin="round" stroke-linecap="round"/>
<path d="M156.0,1187.1 L156.9,1189.0 L157.8,1190.8 L158.8,1192.7 L159.7,1194.5 L160.7,1196.3 L161.7,1198.1 L162.6,1199.9 L163.7,1201.7 L164.7,1203.5 L165.7,1205.2 L166.8,1207.0 L167.8,1208.7 L168.9,1210.4 L170.0,1212.1 L171.1,1213.8 L172.2,1215.5 L173.3,1217.1 L174.5,1218.8 L175.6,1220.4 L176.8,1222.0 L178.0,1223.6 L179.2,1225.2 L180.4,1226.8 L181.6,1228.4 L182.9,1229.9 L184.1,1231.5 L185.4,1233.0 L186.6,1234.6 L187.9,1236.1 L189.2,1237.6 L190.5,1239.1 L191.8,1240.6 L193.1,1242.0 L194.5,1243.5 L195.8,1244.9 L197.2,1246.4 L198.5,1247.8 L199.9,1249.2 L201.3,1250.7 L202.7,1252.1 L204.1,1253.4 L205.5,1254.8 L206.9,1256.2 L208.3,1257.6 L209.8,1258.9 L211.2,1260.3 L212.7,1261.6 L214.2,1262.9 L215.6,1264.2 L217.1,1265.5 L218.6,1266.8 L220.1,1268.1 L221.6,1269.4 L223.1,1270.7 L224.7,1272.0 L226.2,1273.2 L227.7,1274.5 L229.3,1275.7 L230.8,1277.0 L232.4,1278.2 L233.9,1279.4 L235.5,1280.6 L237.1,1281.8 L238.7,1283.0 L240.2,1284.2 L241.8,1285.4 L243.4,1286.6 L245.0,1287.8 L246.7,1288.9 L248.3,1290.1 L249.9,1291.2 L251.5,1292.4 L253.1,1293.5 L254.8,1294.7 L256.4,1295.8 L258.1,1296.9 L259.7,1298.0 L261.4,1299.2 L263.0,1300.3 L264.7,1301.4 L266.3,1302.5 L268.0,1303.6 L269.7,1304.7 L271.3,1305.7 L273.0,1306.8 L274.7,1307.9 L276.4,1309.0 L278.1,1310.0 L279.7,1311.1 L281.4,1312.2 L283.1,1313.2 L284.8,1314.3 L286.5,1315.3 L288.2,1316.3 L289.9,1317.4 L291.6,1318.4 L293.3,1319.4 L295.1,1320.4 L296.8,1321.5 L298.5,1322.5 L300.2,1323.5 L301.9,1324.5 L303.7,1325.5 L305.4,1326.5 L307.1,1327.5 L308.9,1328.5 L310.6,1329.5 L312.3,1330.4 L314.1,1331.4 L315.8,1332.4 L317.6,1333.4 L319.3,1334.3 L321.1,1335.3 L322.8,1336.2 L324.6,1337.2 L326.4,1338.1 L328.1,1339.1 L329.9,1340.0 L331.6,1341.0 L333.4,1341.9 L335.2,1342.8 L337.0,1343.8 L338.7,1344.7 L340.5,1345.6 L342.3,1346.5 L344.1,1347.4 L345.8,1348.3 L347.6,1349.3 L349.4,1350.2 L351.2,1351.1 L353.0,1352.0 L354.8,1352.8 L356.6,1353.7 L358.4,1354.6 L360.2,1355.5 L362.0,1356.4 L363.8,1357.3 L365.6,1358.2 L367.4,1359.0 L369.2,1359.9 L371.0,1360.8 L372.8,1361.6 L374.6,1362.5 L376.4,1363.3 L378.2,1364.2 L380.0,1365.1 L381.8,1365.9 L383.6,1366.8 L385.4,1367.6 L387.3,1368.4 L389.1,1369.3 L390.9,1370.1 L392.7,1371.0 L394.5,1371.8 L396.4,1372.6 L398.2,1373.5 L400.0,1374.3 L401.8,1375.1 L403.7,1375.9 L405.5,1376.7 L407.3,1377.6 L409.1,1378.4 L411.0,1379.2 L412.8,1380.0 L414.6,1380.8 L416.4,1381.6 L418.3,1382.4 L420.1,1383.2 L421.9,1384.0 L423.8,1384.8 L425.6,1385.6 L427.4,1386.4 L429.3,1387.2 L431.1,1388.0 L433.0,1388.8 L434.8,1389.6 L436.6,1390.3 L438.5,1391.1 L440.3,1391.9 L442.2,1392.7 L444.0,1393.4 L445.8,1394.2 L447.7,1395.0 L449.5,1395.8 L451.4,1396.5 L453.2,1397.3 L455.1,1398.0 L456.9,1398.8 L458.8,1399.6 L460.6,1400.3 L462.5,1401.1 L464.3,1401.8 L466.2,1402.6 L468.0,1403.3 L469.9,1404.1 L471.7,1404.8 L473.6,1405.6 L475.4,1406.3 L477.3,1407.0 L479.1,1407.8 L481.0,1408.5 L482.8,1409.2 L484.7,1410.0 L486.6,1410.7 L488.4,1411.4 L490.3,1412.1 L492.1,1412.9 L494.0,1413.6 L495.9,1414.3 L497.7,1415.0 L499.6,1415.7 L501.5,1416.4 L503.3,1417.2 L505.2,1417.9 L507.1,1418.6 L508.9,1419.3 L510.8,1420.0 L512.7,1420.7 L514.5,1421.4 L516.4,1422.1 L518.3,1422.8 L520.1,1423.5 L522.0,1424.2 L523.9,1424.8 L525.7,1425.5 L527.6,1426.2 L529.5,1426.9 L531.4,1427.6 L533.2,1428.3 L535.1,1429.0 L537.0,1429.6 L538.9,1430.3 L540.7,1431.0 L542.6,1431.7 L544.5,1432.3 L546.4,1433.0 L548.3,1433.7 L550.1,1434.3 L552.0,1435.0 L553.9,1435.7 L555.8,1436.3 L557.7,1437.0 L559.5,1437.6 L561.4,1438.3 L563.3,1439.0 L565.2,1439.6 L567.1,1440.3 L569.0,1440.9 L570.9,1441.6 L572.7,1442.2 L574.6,1442.8 L576.5,1443.5 L578.4,1444.1 L580.3,1444.8 L582.2,1445.4 L584.1,1446.0 L586.0,1446.7 L587.9,1447.3 L589.7,1447.9 L591.6,1448.6 L593.5,1449.2 L595.4,1449.8 L597.3,1450.5 L599.2,1451.1 L601.1,1451.7 L603.0,1452.3 L604.9,1453.0 L606.8,1453.6 L608.7,1454.2 L610.6,1454.8 L612.5,1455.4 L614.4,1456.0 L616.3,1456.7 L618.2,1457.3 L620.1,1457.9 L622.0,1458.5 L623.9,1459.1 L625.8,1459.7 L627.7,1460.3 L629.6,1460.9 L631.5,1461.5 L633.4,1462.1 L635.3,1462.7 L637.2,1463.3 L639.1,1463.9 L641.0,1464.5 L642.9,1465.1 L644.8,1465.7 L646.7,1466.3 L648.6,1466.8 L650.5,1467.4 L652.4,1468.0 L654.3,1468.6 L656.2,1469.2 L658.1,1469.8 L660.0,1470.3 L662.0,1470.9 L663.9,1471.5 L665.8,1472.1 L667.7,1472.7 L669.6,1473.2 L671.5,1473.8 L673.4,1474.4 L675.3,1475.0 L677.2,1475.5 L679.1,1476.1 L681.1,1476.7 L683.0,1477.2 L684.9,1477.8 L686.8,1478.4 L688.7,1478.9 L690.6,1479.5 L692.5,1480.0 L694.5,1480.6 L696.4,1481.2 L698.3,1481.7 L700.2,1482.3 L702.1,1482.8 L704.0,1483.4 L705.9,1483.9 L707.9,1484.5 L709.8,1485.0 L711.7,1485.6 L713.6,1486.1 L715.5,1486.7 L717.4,1487.2 L719.4,1487.8 L721.3,1488.3 L723.2,1488.9 L725.1,1489.4 L727.0,1489.9 L729.0,1490.5 L730.9,1491.0 L732.8,1491.6 L734.7,1492.1 L736.6,1492.6 L738.6,1493.2 L740.5,1493.7 L742.4,1494.2 L744.3,1494.8 L746.3,1495.3 L748.2,1495.8 L750.1,1496.4 L752.0,1496.9 L753.9,1497.4 L755.9,1497.9 L757.8,1498.5 L759.7,1499.0 L761.6,1499.5 L763.6,1500.0 L765.5,1500.6 L767.4,1501.1 L769.3,1501.6 L771.3,1502.1 L773.2,1502.6 L775.1,1503.2 L777.0,1503.7 L779.0,1504.2 L780.9,1504.7 L782.8,1505.2 L784.8,1505.7 L786.7,1506.2 L788.6,1506.7 L790.5,1507.2 L792.5,1507.8 L794.4,1508.3 L796.3,1508.8 L798.3,1509.3 L800.2,1509.8 L802.1,1510.3 L804.0,1510.8 L806.0,1511.3 L807.9,1511.8 L809.8,1512.3 L811.8,1512.8 L813.7,1513.3 L815.6,1513.8 L817.6,1514.3 L819.5,1514.8 L821.4,1515.3 L823.4,1515.8 L825.3,1516.3 L827.2,1516.7 L829.2,1517.2 L831.1,1517.7 L833.0,1518.2 L835.0,1518.7 L836.9,1519.2 L838.8,1519.7 L840.8,1520.2 L842.7,1520.7 L844.6,1521.1 L846.6,1521.6 L848.5,1522.1 L850.4,1522.6 L852.4,1523.1 L854.3,1523.6 L856.3,1524.0 L858.2,1524.5 L860.1,1525.0 L862.1,1525.5 L864.0,1525.9 L865.9,1526.4 L867.9,1526.9 L869.8,1527.4 L871.8,1527.8 L873.7,1528.3 L875.6,1528.8 L877.6,1529.3 L879.5,1529.7 L881.4,1530.2 L883.4,1530.7 L885.3,1531.1 L887.3,1531.6 L889.2,1532.1 L891.1,1532.5 L893.1,1533.0 L895.0,1533.5 L897.0,1533.9 L898.9,1534.4 L900.8,1534.9 L902.8,1535.3 L904.7,1535.8 L906.7,1536.2 L908.6,1536.7 L910.6,1537.2 L912.5,1537.6 L914.4,1538.1 L916.4,1538.5 L918.3,1539.0 L920.3,1539.5 L922.2,1539.9 L924.2,1540.4 L926.1,1540.8 L928.0,1541.3 L930.0,1541.7 L931.9,1542.2 L933.9,1542.6 L935.8,1543.1 L937.8,1543.5 L939.7,1544.0 L941.7,1544.4 L943.6,1544.9 L945.5,1545.3 L947.5,1545.8 L949.4,1546.2 L951.4,1546.7 L953.3,1547.1 L955.3,1547.5 L957.2,1548.0 L959.2,1548.4 L961.1,1548.9 L963.1,1549.3 L965.0,1549.8 L967.0,1550.2 L968.9,1550.6 L970.8,1551.1 L972.8,1551.5 L974.7,1552.0 L976.7,1552.4 L978.6,1552.8 L980.6,1553.3 L982.5,1553.7 L984.5,1554.1 L986.4,1554.6 L988.4,1555.0 L990.3,1555.4 L992.3,1555.9 L994.2,1556.3 L996.2,1556.7 L998.1,1557.2 L1000.1,1557.6 L1002.0,1558.0 L1004.0,1558.5 L1005.9,1558.9 L1007.9,1559.3 L1009.8,1559.8 L1011.8,1560.2 L1013.7,1560.6 L1015.7,1561.0 L1017.6,1561.5 L1019.6,1561.9 L1021.5,1562.3 L1023.5,1562.8 L1025.4,1563.2 L1027.4,1563.6 L1029.3,1564.0 L1031.3,1564.5 L1033.2,1564.9 L1035.2,1565.3 L1037.1,1565.7 L1039.1,1566.1 L1041.0,1566.6 L1043.0,1567.0 L1044.9,1567.4 L1046.9,1567.8 L1048.8,1568.2 L1050.8,1568.7 L1052.7,1569.1 L1054.7,1569.5 L1056.7,1569.9 L1058.6,1570.3 L1060.6,1570.8 L1062.5,1571.2 L1064.5,1571.6 L1066.4,1572.0 L1068.4,1572.4 L1070.3,1572.8 L1072.3,1573.3 L1074.2,1573.7 L1076.2,1574.1 L1078.1,1574.5 L1080.1,1574.9 L1082.0,1575.3 L1084.0,1575.7 L1086.0,1576.2 L1087.9,1576.6 L1089.9,1577.0 L1091.8,1577.4 L1093.8,1577.8 L1095.7,1578.2 L1097.7,1578.6 L1099.6,1579.0 L1101.6,1579.4 L1103.5,1579.9 L1105.5,1580.3 L1107.5,1580.7 L1109.4,1581.1 L1111.4,1581.5 L1113.3,1581.9 L1115.3,1582.3 L1117.2,1582.7 L1119.2,1583.1 L1121.1,1583.5 L1123.1,1583.9 L1125.0,1584.3 L1127.0,1584.7 L1129.0,1585.1 L1130.9,1585.6 L1132.9,1586.0 L1134.8,1586.4 L1136.8,1586.8 L1138.7,1587.2 L1140.7,1587.6 L1142.6,1588.0 L1144.6,1588.4 L1146.6,1588.8 L1148.5,1589.2 L1150.5,1589.6 L1152.4,1590.0 L1154.4,1590.4 L1156.3,1590.8 L1158.3,1591.2 L1160.2,1591.6 L1162.2,1592.0 L1164.2,1592.4 L1166.1,1592.8 L1168.1,1593.2 L1170.0,1593.6 L1172.0,1594.0 L1173.9,1594.4 L1175.9,1594.8 L1177.9,1595.2 L1179.8,1595.6 L1181.8,1596.0 L1183.7,1596.4 L1185.7,1596.8 L1187.6,1597.2 L1189.6,1597.6 L1191.5,1598.0 L1193.5,1598.4 L1195.5,1598.8 L1197.4,1599.2 L1199.4,1599.6 L1201.3,1600.0 L1203.3,1600.4 L1205.2,1600.8 L1207.2,1601.2 L1209.2,1601.6 L1211.1,1602.0 L1213.1,1602.4 L1215.0,1602.8 L1217.0,1603.2 L1218.9,1603.6 L1220.9,1604.0 L1222.9,1604.4 L1224.8,1604.8 L1226.8,1605.2 L1228.7,1605.6 L1230.7,1606.0 L1232.6,1606.4 L1234.6,1606.8 L1236.6,1607.2 L1238.5,1607.6 L1240.5,1608.0 L1242.4,1608.4 L1244.4,1608.8 L1246.3,1609.1 L1248.3,1609.5 L1250.2,1609.9 L1252.2,1610.3 L1254.2,1610.7 L1256.1,1611.1 L1258.1,1611.5 L1260.0,1611.9 L1262.0,1612.3 L1263.9,1612.7 L1265.9,1613.1 L1267.9,1613.5 L1269.8,1613.9 L1271.8,1614.3 L1273.7,1614.7 L1275.7,1615.1 L1277.6,1615.5 L1279.6,1615.9 L1281.5,1616.3 L1283.5,1616.7 L1285.5,1617.1 L1287.4,1617.5 L1289.4,1617.9 L1291.3,1618.3 L1293.3,1618.7 L1295.2,1619.1 L1297.2,1619.5 L1299.1,1619.9 L1301.1,1620.2 L1303.1,1620.6 L1305.0,1621.0 L1307.0,1621.4 L1308.9,1621.8 L1310.9,1622.2 L1312.8,1622.6 L1314.8,1623.0 L1316.7,1623.4 L1318.7,1623.8 L1320.7,1624.2 L1322.6,1624.6 L1324.6,1625.0 L1326.5,1625.4 L1328.5,1625.8 L1330.4,1626.2 L1332.4,1626.6 L1334.3,1627.0 L1336.3,1627.4 L1338.2,1627.8 L1340.2,1628.2 L1342.2,1628.6 L1344.1,1629.0 L1346.1,1629.4 L1348.0,1629.8 L1350.0,1630.2 L1351.9,1630.6 L1353.9,1631.0 L1355.8,1631.4 L1357.8,1631.8 L1359.7,1632.2" stroke="#f00a80" stroke-width="8" fill="none" stroke-linejoin="round" stroke-linecap="round"/>
<path d="M155.5,1185 V2140 H1405.5" stroke="#000" stroke-width="8.5" fill="none" stroke-linecap="butt"/>
<path d="M155.5,2140 V2162.5 M557.6,2140 V2162.5 M959.3,2140 V2162.5 M1360.0,2140 V2162.5 M356.6,2140 V2152.5 M758.5,2140 V2152.5 M1160.4,2140 V2152.5" stroke="#000" stroke-width="7" fill="none" stroke-linecap="butt"/>
<path d="M155.5,2140.0 H134.5 M155.5,1822.0 H134.5 M155.5,1504.6 H134.5 M155.5,1980.5 H142.5 M155.5,1663.4 H142.5 M155.5,1345.8 H142.5" stroke="#000" stroke-width="6.2" fill="none" stroke-linecap="butt"/>
<text x="364.4" y="1143.5" font-size="65" font-family="Liberation Sans, sans-serif" style="font-kerning:none" text-anchor="middle" >700</text>
<text x="778.1" y="1143.5" font-size="65" font-family="Liberation Sans, sans-serif" style="font-kerning:none" text-anchor="middle" >800</text>
<text x="1193.5" y="1144.0" font-size="65" font-family="Liberation Sans, sans-serif" style="font-kerning:none" text-anchor="middle" >900</text>
<text x="775.5" y="1201.6" font-size="64.9" font-family="Liberation Sans, sans-serif" style="font-kerning:none" text-anchor="middle" >Wavelength (nm)</text>
<text transform="translate(91.8,537.8) rotate(-90)" font-size="81" letter-spacing="1.2" font-family="Liberation Serif, serif" text-anchor="middle">Absorbance</text>
<text transform="translate(1302.5,217.3) scale(1.13,0.95)" font-size="121" font-family="Liberation Serif, serif" text-anchor="middle" font-style="italic">a</text>
<path d="M1039.6,129.4 H1065.1 V127.6 Q1058.1,126.8 1056.9,124.4 V65.4 H1054.8 L1039.8,70.7 L1040.4,72.8 L1048.6,71.0 V124.4 Q1047.6,126.8 1039.6,127.6 Z" fill="#000"/>
<text x="841.3" y="301.4" font-size="97" font-family="Liberation Serif, serif" text-anchor="middle" >2</text>
<text x="1138.8" y="836.7" font-size="97" font-family="Liberation Serif, serif" text-anchor="middle" >3</text>
<text x="1026.1" y="874.6" font-size="97" font-family="Liberation Serif, serif" text-anchor="middle" >4</text>
<text x="122.5" y="1523.4" font-size="65" font-family="Liberation Sans, sans-serif" style="font-kerning:none" text-anchor="end" >80</text>
<text x="122.5" y="1841.3" font-size="65" font-family="Liberation Sans, sans-serif" style="font-kerning:none" text-anchor="end" >60</text>
<text x="122.5" y="2160.1" font-size="65" font-family="Liberation Sans, sans-serif" style="font-kerning:none" text-anchor="end" >40</text>
<text x="154.8" y="2220.9" font-size="65" font-family="Liberation Sans, sans-serif" style="font-kerning:none" text-anchor="middle" >0</text>
<text x="558.4" y="2222.0" font-size="65" font-family="Liberation Sans, sans-serif" style="font-kerning:none" text-anchor="middle" >10</text>
<text x="958.2" y="2222.0" font-size="65" font-family="Liberation Sans, sans-serif" style="font-kerning:none" text-anchor="middle" >20</text>
<text x="1360.4" y="2222.2" font-size="65" font-family="Liberation Sans, sans-serif" style="font-kerning:none" text-anchor="middle" >30</text>
<text x="763.5" y="2312.5" font-size="65.7" font-family="Liberation Sans, sans-serif" style="font-kerning:none" text-anchor="middle" >Time (min)</text>
<path d="M31.4,1223.2 a18.9,23.4 0 1,0 37.8,0 a18.9,23.4 0 1,0 -37.8,0 Z M40.5,1222.8 a9.4,19.7 0 1,0 18.8,0 a9.4,19.7 0 1,0 -18.8,0 Z M94.1,1267.0 a18.9,23.4 0 1,0 37.8,0 a18.9,23.4 0 1,0 -37.8,0 Z M102.8,1267.0 a9.4,19.7 0 1,0 18.8,0 a9.4,19.7 0 1,0 -18.8,0 Z" fill="#000" fill-rule="evenodd"/>
<path d="M48.7,1291 L55.4,1291 L115.6,1199.5 L109.2,1199.5 Z" fill="#000"/>
<text x="1268.0" y="1459.0" font-size="121" font-family="Liberation Serif, serif" text-anchor="middle" font-style="italic">b</text>
<text x="527.5" y="1363.3" font-size="97" font-family="Liberation Serif, serif" text-anchor="middle" >2</text>
<text x="526.0" y="1498.6" font-size="97" font-family="Liberation Serif, serif" text-anchor="middle" >4</text>
<path d="M808.4,1649.5 H833.9 V1647.7 Q826.9,1646.9 825.7,1644.5 V1586.4 H823.6 L808.6,1591.7 L809.2,1593.8 L817.4,1592.0 V1644.5 Q816.4,1646.9 808.4,1647.7 Z" fill="#000"/>
<text x="822.5" y="1866.6" font-size="97" font-family="Liberation Serif, serif" text-anchor="middle" >3</text>
</svg>
</body></html>
